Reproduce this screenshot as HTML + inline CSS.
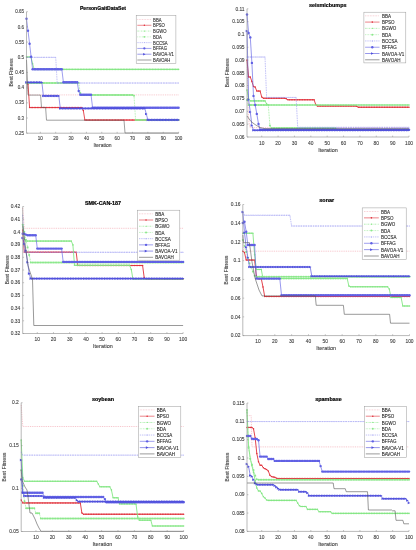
<!DOCTYPE html>
<html><head><meta charset="utf-8"><style>
html,body{margin:0;padding:0;background:#fff;}
.t{fill:#404040;stroke:#404040;stroke-width:0.1px;}
.ti{fill:#000;stroke:#000;stroke-width:0.2px;}
.lg{fill:#1a1a1a;stroke:#1a1a1a;stroke-width:0.08px;}
svg{display:block;font-family:"Liberation Sans",sans-serif;will-change:transform;filter:blur(0.4px);}
</style></head><body>
<svg width="416" height="550" viewBox="0 0 416 550">
<rect width="416" height="550" fill="#fff"/>
<defs><marker id="mBPSO" markerUnits="userSpaceOnUse" markerWidth="1.5" markerHeight="1.5" refX="0.75" refY="0.75" overflow="visible"><circle cx="0.75" cy="0.75" r="0.75" fill="#e0303a"/></marker><marker id="mBGWO" markerUnits="userSpaceOnUse" markerWidth="1.6" markerHeight="1.6" refX="0.8" refY="0.8" overflow="visible"><circle cx="0.8" cy="0.8" r="0.8" fill="#84e684"/></marker><marker id="mBDA" markerUnits="userSpaceOnUse" markerWidth="2.0" markerHeight="2.0" refX="1.0" refY="1.0" overflow="visible"><circle cx="1.0" cy="1.0" r="1.0" fill="#8ce88c"/></marker><marker id="mBCCSA" markerUnits="userSpaceOnUse" markerWidth="0.9" markerHeight="0.9" refX="0.45" refY="0.45" overflow="visible"><circle cx="0.45" cy="0.45" r="0.45" fill="#9a9af2"/></marker><marker id="mBFFAG" markerUnits="userSpaceOnUse" markerWidth="2.4" markerHeight="2.4" refX="1.2" refY="1.2" overflow="visible"><circle cx="1.2" cy="1.2" r="1.2" fill="#6060e4"/></marker><marker id="mBAVOAV1" markerUnits="userSpaceOnUse" markerWidth="2.6" markerHeight="2.6" refX="1.3" refY="1.3" overflow="visible"><path d="M0,0 L2.6,1.3 L0,2.6 Z" fill="#5050dc"/></marker></defs>
<g><path d="M26.5,82.6 L28,94.9 H178.6" fill="none" stroke="#f2a6b0" stroke-width="0.66" stroke-dasharray="0.9 0.9" stroke-linejoin="round"/>
<polyline points="26.5,82.6 28.0,83.9 29.6,107.6 31.1,107.6 32.6,107.6 34.2,107.6 35.7,107.6 37.3,107.6 38.8,107.6 40.3,107.6 41.9,107.6 43.4,107.6 44.9,107.6 46.5,107.6 48.0,107.6 49.5,107.6 51.1,107.6 52.6,107.6 54.2,107.6 55.7,107.6 57.2,107.6 58.8,107.6 60.3,107.6 61.8,107.6 63.4,107.6 64.9,107.6 66.4,107.6 68.0,107.6 69.5,107.6 71.1,107.6 72.6,107.6 74.1,107.6 75.7,107.6 77.2,107.6 78.7,107.6 80.3,107.6 81.8,107.6 83.3,110.5 84.9,120.1 86.4,120.1 88.0,120.1 89.5,120.1 91.0,120.1 92.6,120.1 94.1,120.1 95.6,120.1 97.2,120.1 98.7,120.1 100.2,120.1 101.8,120.1 103.3,120.1 104.9,120.1 106.4,120.1 107.9,120.1 109.5,120.1 111.0,120.1 112.5,120.1 114.1,120.1 115.6,120.1 117.1,120.1 118.7,120.1 120.2,120.1 121.8,120.1 123.3,120.1 124.8,120.1 126.4,120.1 127.9,120.1 129.4,120.1 131.0,120.1 132.5,120.1 134.0,120.1 135.6,120.1 137.1,120.1 138.7,120.1 140.2,120.1 141.7,120.1 143.3,120.1 144.8,120.1 146.3,120.1 147.9,120.1 149.4,120.1 150.9,120.1 152.5,120.1 154.0,120.1 155.6,120.1 157.1,120.1 158.6,120.1 160.2,120.1 161.7,120.1 163.2,120.1 164.8,120.1 166.3,120.1 167.8,120.1 169.4,120.1 170.9,120.1 172.5,120.1 174.0,120.1 175.5,120.1 177.1,120.1 178.6,120.1" fill="none" stroke="#e0303a" stroke-width="0.85" stroke-linejoin="round" marker-start="url(#mBPSO)" marker-mid="url(#mBPSO)" marker-end="url(#mBPSO)"/>
<polyline points="26.5,57.0 28.0,57.0 29.6,57.0 31.1,57.5 32.6,63.8 34.2,69.4 35.7,69.4 37.3,69.4 38.8,69.4 40.3,69.4 41.9,69.4 43.4,69.4 44.9,69.4 46.5,69.4 48.0,69.4 49.5,69.4 51.1,69.4 52.6,69.4 54.2,69.4 55.7,69.4 57.2,69.4 58.8,69.4 60.3,69.4 61.8,69.4 63.4,69.4 64.9,69.4 66.4,69.4 68.0,69.4 69.5,69.4 71.1,69.4 72.6,69.4 74.1,69.4 75.7,69.4 77.2,69.4 78.7,69.4 80.3,69.4 81.8,69.4 83.3,69.4 84.9,69.4 86.4,69.4 88.0,69.4 89.5,69.4 91.0,69.4 92.6,69.4 94.1,69.4 95.6,69.4 97.2,69.4 98.7,69.4 100.2,69.4 101.8,69.4 103.3,69.4 104.9,69.4 106.4,69.4 107.9,69.4 109.5,69.4 111.0,69.4 112.5,69.4 114.1,69.4 115.6,69.4 117.1,69.4 118.7,69.4 120.2,69.4 121.8,69.4 123.3,69.4 124.8,69.4 126.4,69.4 127.9,69.4 129.4,69.4 131.0,69.4 132.5,69.4 134.0,69.4 135.6,69.4 137.1,69.4 138.7,69.4 140.2,69.4 141.7,69.4 143.3,69.4 144.8,69.4 146.3,69.4 147.9,69.4 149.4,69.4 150.9,69.4 152.5,69.4 154.0,69.4 155.6,69.4 157.1,69.4 158.6,69.4 160.2,69.4 161.7,69.4 163.2,69.4 164.8,69.4 166.3,69.4 167.8,69.4 169.4,69.4 170.9,69.4 172.5,69.4 174.0,69.4 175.5,69.4 177.1,69.4 178.6,69.4" fill="none" stroke="#84e684" stroke-width="0.85" stroke-linejoin="round" marker-start="url(#mBGWO)" marker-mid="url(#mBGWO)" marker-end="url(#mBGWO)"/>
<polyline points="26.5,83.0 28.0,83.0 29.6,83.0 31.1,83.0 32.6,83.0 34.2,83.0 35.7,83.0 37.3,83.0 38.8,83.0 40.3,83.0 41.9,83.0 43.4,83.0 44.9,83.0 46.5,83.0 48.0,83.0 49.5,83.0 51.1,83.0 52.6,83.0 54.2,83.0 55.7,83.0 57.2,83.0 58.8,83.0 60.3,83.0 61.8,83.0 63.4,83.0 64.9,83.0 66.4,83.0 68.0,83.0 69.5,83.0 71.1,83.0 72.6,83.0 74.1,83.0 75.7,83.0 77.2,83.0 78.7,83.0 80.3,93.1 81.8,94.9 83.3,94.9 84.9,94.9 86.4,94.9 88.0,94.9 89.5,94.9 91.0,94.9 92.6,94.9 94.1,94.9 95.6,94.9 97.2,94.9 98.7,94.9 100.2,94.9 101.8,94.9 103.3,94.9 104.9,94.9 106.4,94.9 107.9,94.9 109.5,94.9 111.0,94.9 112.5,94.9 114.1,94.9 115.6,94.9 117.1,94.9 118.7,94.9 120.2,94.9 121.8,94.9 123.3,94.9 124.8,94.9 126.4,94.9 127.9,94.9 129.4,94.9 131.0,94.9 132.5,94.9 134.0,95.7 135.6,120.1 137.1,120.1 138.7,120.1 140.2,120.1 141.7,120.1 143.3,120.1 144.8,120.1 146.3,120.1 147.9,120.1 149.4,120.1 150.9,120.1 152.5,120.1 154.0,120.1 155.6,120.1 157.1,120.1 158.6,120.1 160.2,120.1 161.7,120.1 163.2,120.1 164.8,120.1 166.3,120.1 167.8,120.1 169.4,120.1 170.9,120.1 172.5,120.1 174.0,120.1 175.5,120.1 177.1,120.1 178.6,120.1" fill="none" stroke="#8ce88c" stroke-width="0.75" stroke-dasharray="0.8 0.8" stroke-linejoin="round" marker-start="url(#mBDA)" marker-mid="url(#mBDA)" marker-end="url(#mBDA)"/>
<polyline points="26.5,57.3 28.0,57.3 29.6,57.3 31.1,57.3 32.6,57.3 34.2,57.3 35.7,57.3 37.3,57.3 38.8,57.3 40.3,57.3 41.9,57.3 43.4,57.3 44.9,57.3 46.5,57.3 48.0,57.3 49.5,57.3 51.1,57.3 52.6,57.3 54.2,57.3 55.7,57.3 57.2,83.0 58.8,83.0 60.3,83.0 61.8,83.0 63.4,83.0 64.9,83.0 66.4,83.0 68.0,83.0 69.5,83.0 71.1,83.0 72.6,83.0 74.1,83.0 75.7,83.0 77.2,83.0 78.7,83.0 80.3,83.0 81.8,83.0 83.3,83.0 84.9,83.0 86.4,83.0 88.0,83.0 89.5,83.0 91.0,83.0 92.6,83.0 94.1,83.0 95.6,83.0 97.2,83.0 98.7,83.0 100.2,83.0 101.8,83.0 103.3,83.0 104.9,83.0 106.4,83.0 107.9,83.0 109.5,83.0 111.0,83.0 112.5,83.0 114.1,83.0 115.6,83.0 117.1,83.0 118.7,83.0 120.2,83.0 121.8,83.0 123.3,83.0 124.8,83.0 126.4,83.0 127.9,83.0 129.4,83.0 131.0,83.0 132.5,83.0 134.0,83.0 135.6,83.0 137.1,83.0 138.7,83.0 140.2,83.0 141.7,83.0 143.3,83.0 144.8,83.0 146.3,83.0 147.9,83.0 149.4,83.0 150.9,83.0 152.5,83.0 154.0,83.0 155.6,83.0 157.1,83.0 158.6,83.0 160.2,83.0 161.7,83.0 163.2,83.0 164.8,83.0 166.3,83.0 167.8,83.0 169.4,83.0 170.9,83.0 172.5,83.0 174.0,83.0 175.5,83.0 177.1,83.0 178.6,83.0" fill="none" stroke="#9a9af2" stroke-width="0.56" stroke-dasharray="1.6 0.8" stroke-linejoin="round" marker-start="url(#mBCCSA)" marker-mid="url(#mBCCSA)" marker-end="url(#mBCCSA)"/>
<polyline points="26.5,18.7 28.0,30.8 29.6,43.8 31.1,56.7 32.6,69.2 34.2,69.2 35.7,69.2 37.3,69.2 38.8,69.2 40.3,69.2 41.9,69.2 43.4,69.2 44.9,69.2 46.5,69.2 48.0,69.2 49.5,69.2 51.1,69.2 52.6,69.2 54.2,69.2 55.7,69.2 57.2,69.2 58.8,69.2 60.3,69.2 61.8,69.2 63.4,82.2 64.9,82.2 66.4,82.2 68.0,82.2 69.5,82.2 71.1,82.2 72.6,82.2 74.1,82.2 75.7,82.2 77.2,82.2 78.7,91.0 80.3,94.7 81.8,94.7 83.3,94.7 84.9,94.7 86.4,94.7 88.0,94.7 89.5,94.7 91.0,94.7 92.6,107.8 94.1,107.8 95.6,107.8 97.2,107.8 98.7,107.8 100.2,107.8 101.8,107.8 103.3,107.8 104.9,107.8 106.4,107.8 107.9,107.8 109.5,107.8 111.0,107.8 112.5,107.8 114.1,107.8 115.6,107.8 117.1,107.8 118.7,107.8 120.2,107.8 121.8,107.8 123.3,107.8 124.8,107.8 126.4,107.8 127.9,107.8 129.4,107.8 131.0,107.8 132.5,107.8 134.0,107.8 135.6,107.8 137.1,107.8 138.7,107.8 140.2,107.8 141.7,107.8 143.3,107.8 144.8,107.8 146.3,107.8 147.9,107.8 149.4,107.8 150.9,107.8 152.5,107.8 154.0,107.8 155.6,107.8 157.1,107.8 158.6,107.8 160.2,107.8 161.7,107.8 163.2,107.8 164.8,107.8 166.3,107.8 167.8,107.8 169.4,107.8 170.9,107.8 172.5,107.8 174.0,107.8 175.5,107.8 177.1,107.8 178.6,107.8" fill="none" stroke="#6060e4" stroke-width="0.61" stroke-linejoin="round" marker-start="url(#mBFFAG)" marker-mid="url(#mBFFAG)" marker-end="url(#mBFFAG)"/>
<polyline points="26.5,82.4 28.0,82.4 29.6,82.4 31.1,82.4 32.6,82.4 34.2,82.4 35.7,82.4 37.3,82.4 38.8,82.4 40.3,82.4 41.9,82.4 43.4,95.9 44.9,95.9 46.5,95.9 48.0,95.9 49.5,95.9 51.1,95.9 52.6,95.9 54.2,95.9 55.7,95.9 57.2,95.9 58.8,95.9 60.3,108.4 61.8,108.4 63.4,108.4 64.9,108.4 66.4,108.4 68.0,108.4 69.5,108.4 71.1,108.4 72.6,108.4 74.1,108.4 75.7,108.4 77.2,108.4 78.7,108.4 80.3,108.4 81.8,108.4 83.3,108.4 84.9,108.4 86.4,108.4 88.0,108.4 89.5,108.4 91.0,108.4 92.6,108.4 94.1,108.4 95.6,108.4 97.2,108.4 98.7,108.4 100.2,108.4 101.8,108.4 103.3,108.4 104.9,108.4 106.4,108.4 107.9,108.4 109.5,108.4 111.0,108.4 112.5,108.4 114.1,108.4 115.6,108.4 117.1,108.4 118.7,108.4 120.2,108.4 121.8,108.4 123.3,108.4 124.8,108.4 126.4,108.4 127.9,108.4 129.4,108.4 131.0,108.4 132.5,108.4 134.0,108.4 135.6,108.4 137.1,108.4 138.7,108.4 140.2,108.4 141.7,108.4 143.3,108.4 144.8,108.4 146.3,114.0 147.9,119.9 149.4,119.9 150.9,119.9 152.5,119.9 154.0,119.9 155.6,119.9 157.1,119.9 158.6,119.9 160.2,119.9 161.7,119.9 163.2,119.9 164.8,119.9 166.3,119.9 167.8,119.9 169.4,119.9 170.9,119.9 172.5,119.9 174.0,119.9 175.5,119.9 177.1,119.9 178.6,119.9" fill="none" stroke="#5050dc" stroke-width="0.61" stroke-linejoin="round" marker-start="url(#mBAVOAV1)" marker-mid="url(#mBAVOAV1)" marker-end="url(#mBAVOAV1)"/>
<path d="M26.5,60 L28.1,95.1 H40.6 L41.5,107.4 H45.6 L46.5,120.2 H124 L125,133 H178.6" fill="none" stroke="#555555" stroke-width="0.56" stroke-linejoin="round"/>
<path d="M26.50,11.70 V133.20 H178.60" fill="none" stroke="#8a8a8a" stroke-width="0.6"/>
<text x="40.33" y="139.84" font-size="4.55" text-anchor="middle" class="t">10</text>
<text x="55.69" y="139.84" font-size="4.55" text-anchor="middle" class="t">20</text>
<text x="71.05" y="139.84" font-size="4.55" text-anchor="middle" class="t">30</text>
<text x="86.42" y="139.84" font-size="4.55" text-anchor="middle" class="t">40</text>
<text x="101.78" y="139.84" font-size="4.55" text-anchor="middle" class="t">50</text>
<text x="117.15" y="139.84" font-size="4.55" text-anchor="middle" class="t">60</text>
<text x="132.51" y="139.84" font-size="4.55" text-anchor="middle" class="t">70</text>
<text x="147.87" y="139.84" font-size="4.55" text-anchor="middle" class="t">80</text>
<text x="163.24" y="139.84" font-size="4.55" text-anchor="middle" class="t">90</text>
<text x="178.60" y="139.84" font-size="4.55" text-anchor="middle" class="t">100</text>
<text x="24.10" y="134.84" font-size="4.55" text-anchor="end" class="t">0.25</text>
<text x="24.10" y="119.65" font-size="4.55" text-anchor="end" class="t">0.3</text>
<text x="24.10" y="104.46" font-size="4.55" text-anchor="end" class="t">0.35</text>
<text x="24.10" y="89.28" font-size="4.55" text-anchor="end" class="t">0.4</text>
<text x="24.10" y="74.09" font-size="4.55" text-anchor="end" class="t">0.45</text>
<text x="24.10" y="58.90" font-size="4.55" text-anchor="end" class="t">0.5</text>
<text x="24.10" y="43.71" font-size="4.55" text-anchor="end" class="t">0.55</text>
<text x="24.10" y="28.53" font-size="4.55" text-anchor="end" class="t">0.6</text>
<text x="24.10" y="13.34" font-size="4.55" text-anchor="end" class="t">0.65</text>
<path d="M40.33,133.20 v-1.4 M55.69,133.20 v-1.4 M71.05,133.20 v-1.4 M86.42,133.20 v-1.4 M101.78,133.20 v-1.4 M117.15,133.20 v-1.4 M132.51,133.20 v-1.4 M147.87,133.20 v-1.4 M163.24,133.20 v-1.4 M178.60,133.20 v-1.4 M26.50,133.20 h1.4 M26.50,118.01 h1.4 M26.50,102.83 h1.4 M26.50,87.64 h1.4 M26.50,72.45 h1.4 M26.50,57.26 h1.4 M26.50,42.07 h1.4 M26.50,26.89 h1.4 M26.50,11.70 h1.4" stroke="#8a8a8a" stroke-width="0.5"/>
<text x="102.55" y="146.80" font-size="5.00" text-anchor="middle" class="t">Iteration</text>
<text transform="translate(12.65,72.45) rotate(-90)" font-size="5.15" text-anchor="middle" class="t">Best Fitness</text>
<text x="103.00" y="10.20" font-size="5.08" font-weight="bold" text-anchor="middle" class="ti">PersonGaitDataSet</text>
<rect x="136.20" y="15.30" width="39.70" height="48.30" fill="#fff" stroke="#9a9a9a" stroke-width="0.5"/>
<path d="M137.30,19.50 H151.40" stroke="#f2a6b0" stroke-width="0.56" stroke-dasharray="0.8 0.8"/>

<text transform="translate(153.10,21.56) scale(0.920,1)" font-size="4.6" class="lg">BBA</text>
<path d="M137.30,25.29 H151.40" stroke="#e0303a" stroke-width="0.56"/>
<circle cx="144.35" cy="25.29" r="0.75" fill="#e0303a"/>
<text transform="translate(153.10,27.34) scale(0.920,1)" font-size="4.6" class="lg">BPSO</text>
<path d="M137.30,31.07 H151.40" stroke="#84e684" stroke-width="0.56" stroke-dasharray="1.6 0.7 0.5 0.7"/>
<circle cx="144.35" cy="31.07" r="0.56" fill="#84e684"/>
<text transform="translate(153.10,33.13) scale(0.920,1)" font-size="4.6" class="lg">BGWO</text>
<path d="M137.30,36.86 H151.40" stroke="#8ce88c" stroke-width="0.56" stroke-dasharray="0.8 0.8"/>
<circle cx="144.35" cy="36.86" r="0.94" fill="#8ce88c"/>
<text transform="translate(153.10,38.91) scale(0.920,1)" font-size="4.6" class="lg">BDA</text>
<path d="M137.30,42.64 H151.40" stroke="#9a9af2" stroke-width="0.56" stroke-dasharray="1.4 0.8"/>
<circle cx="144.35" cy="42.64" r="0.47" fill="#9a9af2"/>
<text transform="translate(153.10,44.70) scale(0.920,1)" font-size="4.6" class="lg">BCCSA</text>
<path d="M137.30,48.43 H151.40" stroke="#6060e4" stroke-width="0.56"/>
<circle cx="144.35" cy="48.43" r="1.13" fill="#6060e4"/>
<text transform="translate(153.10,50.48) scale(0.920,1)" font-size="4.6" class="lg">BFFAG</text>
<path d="M137.30,54.21 H151.40" stroke="#5050dc" stroke-width="0.56"/>
<path d="M143.13,52.99 L145.57,54.21 L143.13,55.44 Z" fill="#5050dc"/>
<text transform="translate(153.10,56.27) scale(0.920,1)" font-size="4.6" class="lg">BAVOA-V1</text>
<path d="M137.30,60.00 H151.40" stroke="#555555" stroke-width="0.56"/>

<text transform="translate(153.10,62.06) scale(0.920,1)" font-size="4.6" class="lg">BAVOAH</text></g>
<g><path d="M247,60 L248.6,120 L250,127.6 H409" fill="none" stroke="#f2a6b0" stroke-width="0.70" stroke-dasharray="0.9 0.9" stroke-linejoin="round"/>
<polyline points="247.0,60.0 248.6,77.0 250.3,77.0 251.9,81.5 253.5,86.6 255.2,87.1 256.8,91.1 258.5,91.1 260.1,91.1 261.7,96.9 263.4,98.2 265.0,98.2 266.6,98.2 268.3,98.2 269.9,98.2 271.5,98.2 273.2,98.2 274.8,98.2 276.5,98.2 278.1,98.2 279.7,98.2 281.4,98.2 283.0,98.2 284.6,98.2 286.3,98.8 287.9,99.8 289.5,99.8 291.2,99.8 292.8,99.8 294.5,99.8 296.1,99.8 297.7,99.8 299.4,99.8 301.0,99.8 302.6,99.8 304.3,99.8 305.9,99.8 307.5,99.8 309.2,99.8 310.8,99.8 312.5,99.8 314.1,99.8 315.7,104.5 317.4,106.1 319.0,106.1 320.6,106.1 322.3,106.1 323.9,106.1 325.5,106.1 327.2,106.1 328.8,106.1 330.5,106.1 332.1,106.1 333.7,106.1 335.4,106.1 337.0,106.1 338.6,106.1 340.3,106.1 341.9,106.1 343.5,106.1 345.2,106.1 346.8,106.1 348.5,106.1 350.1,106.1 351.7,106.1 353.4,106.1 355.0,106.1 356.6,106.2 358.3,107.2 359.9,107.2 361.5,107.2 363.2,107.2 364.8,107.2 366.5,107.2 368.1,107.2 369.7,107.2 371.4,107.2 373.0,107.2 374.6,107.2 376.3,107.2 377.9,107.2 379.5,107.2 381.2,107.2 382.8,107.2 384.5,107.2 386.1,107.2 387.7,107.2 389.4,107.2 391.0,107.2 392.6,107.2 394.3,107.2 395.9,107.2 397.5,107.2 399.2,107.2 400.8,107.2 402.5,107.2 404.1,107.2 405.7,107.2 407.4,107.2 409.0,107.2" fill="none" stroke="#e0303a" stroke-width="0.90" stroke-linejoin="round" marker-start="url(#mBPSO)" marker-mid="url(#mBPSO)" marker-end="url(#mBPSO)"/>
<polyline points="247.0,90.0 248.6,98.9 250.3,100.9 251.9,100.9 253.5,100.9 255.2,100.9 256.8,100.9 258.5,100.9 260.1,100.9 261.7,100.9 263.4,100.9 265.0,100.9 266.6,103.9 268.3,105.0 269.9,105.0 271.5,105.0 273.2,105.0 274.8,105.0 276.5,105.0 278.1,105.0 279.7,105.0 281.4,105.0 283.0,105.0 284.6,105.0 286.3,105.0 287.9,105.0 289.5,105.0 291.2,105.0 292.8,105.0 294.5,105.0 296.1,105.0 297.7,105.0 299.4,105.0 301.0,105.0 302.6,105.0 304.3,105.0 305.9,105.0 307.5,105.0 309.2,105.0 310.8,105.0 312.5,105.0 314.1,105.0 315.7,105.0 317.4,105.0 319.0,105.0 320.6,105.0 322.3,105.0 323.9,105.0 325.5,105.0 327.2,105.0 328.8,105.0 330.5,105.0 332.1,105.0 333.7,105.0 335.4,105.0 337.0,105.0 338.6,105.0 340.3,105.0 341.9,105.0 343.5,105.0 345.2,105.0 346.8,105.0 348.5,105.0 350.1,105.0 351.7,105.0 353.4,105.0 355.0,105.0 356.6,105.0 358.3,105.0 359.9,105.0 361.5,105.0 363.2,105.0 364.8,105.0 366.5,105.0 368.1,105.0 369.7,105.0 371.4,105.0 373.0,105.0 374.6,105.0 376.3,105.0 377.9,105.0 379.5,105.0 381.2,105.0 382.8,105.0 384.5,105.0 386.1,105.0 387.7,105.0 389.4,105.0 391.0,105.0 392.6,105.0 394.3,105.0 395.9,105.0 397.5,105.0 399.2,105.0 400.8,105.0 402.5,105.0 404.1,105.0 405.7,105.0 407.4,105.0 409.0,105.0" fill="none" stroke="#84e684" stroke-width="0.90" stroke-linejoin="round" marker-start="url(#mBGWO)" marker-mid="url(#mBGWO)" marker-end="url(#mBGWO)"/>
<polyline points="247.0,100.0 248.6,105.0 250.3,105.0 251.9,105.0 253.5,105.0 255.2,105.0 256.8,105.0 258.5,105.0 260.1,105.0 261.7,105.0 263.4,105.0 265.0,105.0 266.6,105.0 268.3,105.0 269.9,125.4 271.5,128.0 273.2,128.0 274.8,128.0 276.5,128.0 278.1,128.0 279.7,128.0 281.4,128.0 283.0,128.0 284.6,128.0 286.3,128.0 287.9,128.0 289.5,128.0 291.2,128.0 292.8,128.0 294.5,128.0 296.1,128.0 297.7,128.0 299.4,128.0 301.0,128.0 302.6,128.0 304.3,128.0 305.9,128.0 307.5,128.0 309.2,128.0 310.8,128.0 312.5,128.0 314.1,128.0 315.7,128.0 317.4,128.0 319.0,128.0 320.6,128.0 322.3,128.0 323.9,128.0 325.5,128.0 327.2,128.0 328.8,128.0 330.5,128.0 332.1,128.0 333.7,128.0 335.4,128.0 337.0,130.0 338.6,130.0 340.3,130.0 341.9,130.0 343.5,130.0 345.2,130.0 346.8,130.0 348.5,130.0 350.1,130.0 351.7,130.0 353.4,130.0 355.0,130.0 356.6,130.0 358.3,130.0 359.9,130.0 361.5,130.0 363.2,130.0 364.8,130.0 366.5,130.0 368.1,130.0 369.7,130.0 371.4,130.0 373.0,130.0 374.6,130.0 376.3,130.0 377.9,130.0 379.5,130.0 381.2,130.0 382.8,130.0 384.5,130.0 386.1,130.0 387.7,130.0 389.4,130.0 391.0,130.0 392.6,130.0 394.3,130.0 395.9,130.0 397.5,130.0 399.2,130.0 400.8,130.0 402.5,130.0 404.1,130.0 405.7,130.0 407.4,130.0 409.0,130.0" fill="none" stroke="#8ce88c" stroke-width="0.80" stroke-dasharray="0.8 0.8" stroke-linejoin="round" marker-start="url(#mBDA)" marker-mid="url(#mBDA)" marker-end="url(#mBDA)"/>
<polyline points="247.0,57.0 248.6,57.0 250.3,57.0 251.9,57.0 253.5,57.0 255.2,57.0 256.8,57.0 258.5,57.0 260.1,57.0 261.7,57.0 263.4,57.0 265.0,57.0 266.6,97.4 268.3,97.4 269.9,97.4 271.5,97.4 273.2,97.4 274.8,97.4 276.5,97.4 278.1,97.4 279.7,97.4 281.4,97.4 283.0,97.4 284.6,97.4 286.3,97.4 287.9,97.4 289.5,97.4 291.2,97.4 292.8,97.4 294.5,97.4 296.1,97.4 297.7,127.3 299.4,127.3 301.0,127.3 302.6,127.3 304.3,127.3 305.9,127.3 307.5,127.3 309.2,127.3 310.8,127.3 312.5,127.3 314.1,127.3 315.7,127.3 317.4,127.3 319.0,127.3 320.6,127.3 322.3,127.3 323.9,127.3 325.5,127.3 327.2,127.3 328.8,127.3 330.5,127.3 332.1,127.3 333.7,127.3 335.4,127.3 337.0,127.3 338.6,127.3 340.3,127.3 341.9,127.3 343.5,127.3 345.2,127.3 346.8,127.3 348.5,127.3 350.1,127.3 351.7,127.3 353.4,127.3 355.0,127.3 356.6,127.3 358.3,127.3 359.9,127.3 361.5,127.3 363.2,127.3 364.8,127.3 366.5,127.3 368.1,127.3 369.7,127.3 371.4,127.3 373.0,127.3 374.6,127.3 376.3,127.3 377.9,127.3 379.5,127.3 381.2,127.3 382.8,127.3 384.5,127.3 386.1,127.3 387.7,127.3 389.4,127.3 391.0,127.3 392.6,127.3 394.3,127.3 395.9,127.3 397.5,127.3 399.2,127.3 400.8,127.3 402.5,127.3 404.1,127.3 405.7,127.3 407.4,127.3 409.0,127.3" fill="none" stroke="#9a9af2" stroke-width="0.60" stroke-dasharray="1.6 0.8" stroke-linejoin="round" marker-start="url(#mBCCSA)" marker-mid="url(#mBCCSA)" marker-end="url(#mBCCSA)"/>
<polyline points="247.0,14.5 248.6,33.0 250.3,37.4 251.9,62.9 253.5,95.9 255.2,105.0 256.8,113.9 258.5,124.0 260.1,129.6 261.7,129.6 263.4,129.6 265.0,129.6 266.6,129.6 268.3,129.6 269.9,129.6 271.5,129.6 273.2,129.6 274.8,129.6 276.5,129.6 278.1,129.6 279.7,129.6 281.4,129.6 283.0,129.6 284.6,129.6 286.3,129.6 287.9,129.6 289.5,129.6 291.2,129.6 292.8,129.6 294.5,129.6 296.1,129.6 297.7,129.6 299.4,129.6 301.0,129.6 302.6,129.6 304.3,129.6 305.9,129.6 307.5,129.6 309.2,129.6 310.8,129.6 312.5,129.6 314.1,129.6 315.7,129.6 317.4,129.6 319.0,129.6 320.6,129.6 322.3,129.6 323.9,129.6 325.5,129.6 327.2,129.6 328.8,129.6 330.5,129.6 332.1,129.6 333.7,129.6 335.4,129.6 337.0,129.6 338.6,129.6 340.3,129.6 341.9,129.6 343.5,129.6 345.2,129.6 346.8,129.6 348.5,129.6 350.1,129.6 351.7,129.6 353.4,129.6 355.0,129.6 356.6,129.6 358.3,129.6 359.9,129.6 361.5,129.6 363.2,129.6 364.8,129.6 366.5,129.6 368.1,129.6 369.7,129.6 371.4,129.6 373.0,129.6 374.6,129.6 376.3,129.6 377.9,129.6 379.5,129.6 381.2,129.6 382.8,129.6 384.5,129.6 386.1,129.6 387.7,129.6 389.4,129.6 391.0,129.6 392.6,129.6 394.3,129.6 395.9,129.6 397.5,129.6 399.2,129.6 400.8,129.6 402.5,129.6 404.1,129.6 405.7,129.6 407.4,129.6 409.0,129.6" fill="none" stroke="#6060e4" stroke-width="0.65" stroke-linejoin="round" marker-start="url(#mBFFAG)" marker-mid="url(#mBFFAG)" marker-end="url(#mBFFAG)"/>
<polyline points="247.0,31.0 248.6,99.8 250.3,112.0 251.9,125.5 253.5,130.3 255.2,130.3 256.8,130.3 258.5,130.3 260.1,130.3 261.7,130.3 263.4,130.3 265.0,130.3 266.6,130.3 268.3,130.3 269.9,130.3 271.5,130.3 273.2,130.3 274.8,130.3 276.5,130.3 278.1,130.3 279.7,130.3 281.4,130.3 283.0,130.3 284.6,130.3 286.3,130.3 287.9,130.3 289.5,130.3 291.2,130.3 292.8,130.3 294.5,130.3 296.1,130.3 297.7,130.3 299.4,130.3 301.0,130.3 302.6,130.3 304.3,130.3 305.9,130.3 307.5,130.3 309.2,130.3 310.8,130.3 312.5,130.3 314.1,130.3 315.7,130.3 317.4,130.3 319.0,130.3 320.6,130.3 322.3,130.3 323.9,130.3 325.5,130.3 327.2,130.3 328.8,130.3 330.5,130.3 332.1,130.3 333.7,130.3 335.4,130.3 337.0,130.3 338.6,130.3 340.3,130.3 341.9,130.3 343.5,130.3 345.2,130.3 346.8,130.3 348.5,130.3 350.1,130.3 351.7,130.3 353.4,130.3 355.0,130.3 356.6,130.3 358.3,130.3 359.9,130.3 361.5,130.3 363.2,130.3 364.8,130.3 366.5,130.3 368.1,130.3 369.7,130.3 371.4,130.3 373.0,130.3 374.6,130.3 376.3,130.3 377.9,130.3 379.5,130.3 381.2,130.3 382.8,130.3 384.5,130.3 386.1,130.3 387.7,130.3 389.4,130.3 391.0,130.3 392.6,130.3 394.3,130.3 395.9,130.3 397.5,130.3 399.2,130.3 400.8,130.3 402.5,130.3 404.1,130.3 405.7,130.3 407.4,130.3 409.0,130.3" fill="none" stroke="#5050dc" stroke-width="0.65" stroke-linejoin="round" marker-start="url(#mBAVOAV1)" marker-mid="url(#mBAVOAV1)" marker-end="url(#mBAVOAV1)"/>
<path d="M247,116 L251,121.5 L255,124.5 L260,127.5 L265,128.7 H409" fill="none" stroke="#555555" stroke-width="0.60" stroke-linejoin="round"/>
<path d="M247.00,8.80 V137.00 H409.00" fill="none" stroke="#8a8a8a" stroke-width="0.6"/>
<text x="261.73" y="144.66" font-size="4.90" text-anchor="middle" class="t">10</text>
<text x="278.09" y="144.66" font-size="4.90" text-anchor="middle" class="t">20</text>
<text x="294.45" y="144.66" font-size="4.90" text-anchor="middle" class="t">30</text>
<text x="310.82" y="144.66" font-size="4.90" text-anchor="middle" class="t">40</text>
<text x="327.18" y="144.66" font-size="4.90" text-anchor="middle" class="t">50</text>
<text x="343.55" y="144.66" font-size="4.90" text-anchor="middle" class="t">60</text>
<text x="359.91" y="144.66" font-size="4.90" text-anchor="middle" class="t">70</text>
<text x="376.27" y="144.66" font-size="4.90" text-anchor="middle" class="t">80</text>
<text x="392.64" y="144.66" font-size="4.90" text-anchor="middle" class="t">90</text>
<text x="409.00" y="144.66" font-size="4.90" text-anchor="middle" class="t">100</text>
<text x="244.60" y="138.76" font-size="4.90" text-anchor="end" class="t">0.06</text>
<text x="244.60" y="125.94" font-size="4.90" text-anchor="end" class="t">0.065</text>
<text x="244.60" y="113.12" font-size="4.90" text-anchor="end" class="t">0.07</text>
<text x="244.60" y="100.30" font-size="4.90" text-anchor="end" class="t">0.075</text>
<text x="244.60" y="87.48" font-size="4.90" text-anchor="end" class="t">0.08</text>
<text x="244.60" y="74.66" font-size="4.90" text-anchor="end" class="t">0.085</text>
<text x="244.60" y="61.84" font-size="4.90" text-anchor="end" class="t">0.09</text>
<text x="244.60" y="49.02" font-size="4.90" text-anchor="end" class="t">0.095</text>
<text x="244.60" y="36.20" font-size="4.90" text-anchor="end" class="t">0.1</text>
<text x="244.60" y="23.38" font-size="4.90" text-anchor="end" class="t">0.105</text>
<text x="244.60" y="10.56" font-size="4.90" text-anchor="end" class="t">0.11</text>
<path d="M261.73,137.00 v-1.4 M278.09,137.00 v-1.4 M294.45,137.00 v-1.4 M310.82,137.00 v-1.4 M327.18,137.00 v-1.4 M343.55,137.00 v-1.4 M359.91,137.00 v-1.4 M376.27,137.00 v-1.4 M392.64,137.00 v-1.4 M409.00,137.00 v-1.4 M247.00,137.00 h1.4 M247.00,124.18 h1.4 M247.00,111.36 h1.4 M247.00,98.54 h1.4 M247.00,85.72 h1.4 M247.00,72.90 h1.4 M247.00,60.08 h1.4 M247.00,47.26 h1.4 M247.00,34.44 h1.4 M247.00,21.62 h1.4 M247.00,8.80 h1.4" stroke="#8a8a8a" stroke-width="0.5"/>
<text x="328.00" y="151.86" font-size="5.45" text-anchor="middle" class="t">Iteration</text>
<text transform="translate(229.11,72.90) rotate(-90)" font-size="5.30" text-anchor="middle" class="t">Best Fitness</text>
<text x="327.70" y="7.20" font-size="5.40" font-weight="bold" text-anchor="middle" class="ti">seismicbumps</text>
<rect x="363.90" y="12.20" width="41.90" height="50.70" fill="#fff" stroke="#9a9a9a" stroke-width="0.5"/>
<path d="M365.10,15.80 H379.50" stroke="#f2a6b0" stroke-width="0.60" stroke-dasharray="0.8 0.8"/>

<text x="382.00" y="17.92" font-size="4.50" class="lg">BBA</text>
<path d="M365.10,22.09 H379.50" stroke="#e0303a" stroke-width="0.60"/>
<circle cx="372.30" cy="22.09" r="0.80" fill="#e0303a"/>
<text x="382.00" y="24.21" font-size="4.50" class="lg">BPSO</text>
<path d="M365.10,28.37 H379.50" stroke="#84e684" stroke-width="0.60" stroke-dasharray="1.6 0.7 0.5 0.7"/>
<circle cx="372.30" cy="28.37" r="0.60" fill="#84e684"/>
<text x="382.00" y="30.49" font-size="4.50" class="lg">BGWO</text>
<path d="M365.10,34.66 H379.50" stroke="#8ce88c" stroke-width="0.60" stroke-dasharray="0.8 0.8"/>
<circle cx="372.30" cy="34.66" r="1.00" fill="#8ce88c"/>
<text x="382.00" y="36.78" font-size="4.50" class="lg">BDA</text>
<path d="M365.10,40.94 H379.50" stroke="#9a9af2" stroke-width="0.60" stroke-dasharray="1.4 0.8"/>
<circle cx="372.30" cy="40.94" r="0.50" fill="#9a9af2"/>
<text x="382.00" y="43.06" font-size="4.50" class="lg">BCCSA</text>
<path d="M365.10,47.23 H379.50" stroke="#6060e4" stroke-width="0.60"/>
<circle cx="372.30" cy="47.23" r="1.20" fill="#6060e4"/>
<text x="382.00" y="49.35" font-size="4.50" class="lg">BFFAG</text>
<path d="M365.10,53.51 H379.50" stroke="#5050dc" stroke-width="0.60"/>
<path d="M371.00,52.21 L373.60,53.51 L371.00,54.81 Z" fill="#5050dc"/>
<text x="382.00" y="55.63" font-size="4.50" class="lg">BAVOA-V1</text>
<path d="M365.10,59.80 H379.50" stroke="#555555" stroke-width="0.60"/>

<text x="382.00" y="61.92" font-size="4.50" class="lg">BAVOAH</text></g>
<g><path d="M22.7,208 L24.3,228.3 H183.1" fill="none" stroke="#f2a6b0" stroke-width="0.70" stroke-dasharray="0.9 0.9" stroke-linejoin="round"/>
<polyline points="22.7,230.0 24.3,252.2 25.9,252.2 27.6,252.2 29.2,252.2 30.8,252.2 32.4,252.2 34.0,252.2 35.7,252.2 37.3,252.2 38.9,252.2 40.5,252.2 42.1,252.2 43.8,252.2 45.4,252.2 47.0,252.2 48.6,252.2 50.2,252.2 51.9,252.2 53.5,252.2 55.1,252.2 56.7,252.2 58.3,252.2 60.0,252.2 61.6,252.2 63.2,252.2 64.8,252.2 66.4,252.2 68.1,252.2 69.7,252.2 71.3,252.2 72.9,252.2 74.5,252.2 76.2,252.2 77.8,265.5 79.4,265.5 81.0,265.5 82.6,265.5 84.3,265.5 85.9,265.5 87.5,265.5 89.1,265.5 90.7,265.5 92.4,265.5 94.0,265.5 95.6,265.5 97.2,265.5 98.8,265.5 100.5,265.5 102.1,265.5 103.7,265.5 105.3,265.5 107.0,265.5 108.6,265.5 110.2,265.5 111.8,265.5 113.4,265.5 115.1,265.5 116.7,265.5 118.3,265.5 119.9,265.5 121.5,265.5 123.2,265.5 124.8,265.5 126.4,265.5 128.0,265.5 129.6,265.5 131.3,265.5 132.9,265.5 134.5,265.5 136.1,265.5 137.7,265.5 139.4,265.5 141.0,265.5 142.6,265.5 144.2,277.6 145.8,278.9 147.5,278.9 149.1,278.9 150.7,278.9 152.3,278.9 153.9,278.9 155.6,278.9 157.2,278.9 158.8,278.9 160.4,278.9 162.0,278.9 163.7,278.9 165.3,278.9 166.9,278.9 168.5,278.9 170.1,278.9 171.8,278.9 173.4,278.9 175.0,278.9 176.6,278.9 178.2,278.9 179.9,278.9 181.5,278.9 183.1,278.9" fill="none" stroke="#e0303a" stroke-width="0.90" stroke-linejoin="round" marker-start="url(#mBPSO)" marker-mid="url(#mBPSO)" marker-end="url(#mBPSO)"/>
<polyline points="22.7,224.8 24.3,239.3 25.9,241.1 27.6,241.1 29.2,241.1 30.8,241.1 32.4,241.1 34.0,241.1 35.7,241.1 37.3,241.1 38.9,241.1 40.5,241.1 42.1,241.1 43.8,241.1 45.4,241.1 47.0,241.1 48.6,241.1 50.2,241.1 51.9,241.1 53.5,241.1 55.1,241.1 56.7,241.1 58.3,241.1 60.0,241.1 61.6,241.1 63.2,241.1 64.8,241.1 66.4,241.1 68.1,241.1 69.7,241.1 71.3,241.1 72.9,244.9 74.5,265.3 76.2,265.3 77.8,265.3 79.4,265.3 81.0,265.3 82.6,265.3 84.3,265.3 85.9,265.3 87.5,265.3 89.1,265.3 90.7,265.3 92.4,265.3 94.0,265.3 95.6,265.3 97.2,265.3 98.8,265.3 100.5,265.3 102.1,265.3 103.7,265.3 105.3,265.3 107.0,265.3 108.6,265.3 110.2,265.3 111.8,265.3 113.4,265.3 115.1,265.3 116.7,265.3 118.3,265.3 119.9,265.3 121.5,265.3 123.2,265.3 124.8,265.3 126.4,265.3 128.0,265.3 129.6,265.3 131.3,269.6 132.9,278.9 134.5,278.9 136.1,278.9 137.7,278.9 139.4,278.9 141.0,278.9 142.6,278.9 144.2,278.9 145.8,278.9 147.5,278.9 149.1,278.9 150.7,278.9 152.3,278.9 153.9,278.9 155.6,278.9 157.2,278.9 158.8,278.9 160.4,278.9 162.0,278.9 163.7,278.9 165.3,278.9 166.9,278.9 168.5,278.9 170.1,278.9 171.8,278.9 173.4,278.9 175.0,278.9 176.6,278.9 178.2,278.9 179.9,278.9 181.5,278.9 183.1,278.9" fill="none" stroke="#84e684" stroke-width="0.90" stroke-linejoin="round" marker-start="url(#mBGWO)" marker-mid="url(#mBGWO)" marker-end="url(#mBGWO)"/>
<polyline points="22.7,224.8 24.3,231.8 25.9,239.7 27.6,247.3 29.2,255.0 30.8,262.6 32.4,262.6 34.0,262.6 35.7,262.6 37.3,262.6 38.9,262.6 40.5,262.6 42.1,262.6 43.8,262.6 45.4,262.6 47.0,262.6 48.6,262.6 50.2,262.6 51.9,262.6 53.5,262.6 55.1,262.6 56.7,262.6 58.3,262.6 60.0,262.6 61.6,262.6 63.2,262.6 64.8,262.6 66.4,262.6 68.1,262.6 69.7,262.6 71.3,262.6 72.9,262.6 74.5,262.6 76.2,262.6 77.8,262.6 79.4,262.6 81.0,262.6 82.6,262.6 84.3,262.6 85.9,262.6 87.5,262.6 89.1,262.6 90.7,262.6 92.4,262.6 94.0,262.6 95.6,262.6 97.2,262.6 98.8,262.6 100.5,262.6 102.1,262.6 103.7,262.6 105.3,262.6 107.0,262.6 108.6,262.6 110.2,262.6 111.8,262.6 113.4,262.6 115.1,262.6 116.7,262.6 118.3,262.6 119.9,262.6 121.5,262.6 123.2,262.6 124.8,262.6 126.4,262.6 128.0,262.6 129.6,262.6 131.3,262.6 132.9,262.6 134.5,262.6 136.1,262.6 137.7,262.6 139.4,262.6 141.0,262.6 142.6,262.6 144.2,262.6 145.8,262.6 147.5,262.6 149.1,262.6 150.7,262.6 152.3,262.6 153.9,262.6 155.6,262.6 157.2,262.6 158.8,262.6 160.4,262.6 162.0,262.6 163.7,262.6 165.3,262.6 166.9,262.6 168.5,262.6 170.1,262.6 171.8,262.6 173.4,262.6 175.0,262.6 176.6,262.6 178.2,262.6 179.9,262.6 181.5,262.6 183.1,262.6" fill="none" stroke="#8ce88c" stroke-width="0.80" stroke-dasharray="0.8 0.8" stroke-linejoin="round" marker-start="url(#mBDA)" marker-mid="url(#mBDA)" marker-end="url(#mBDA)"/>
<polyline points="22.7,215.0 24.3,252.2 25.9,252.2 27.6,252.2 29.2,252.2 30.8,252.2 32.4,252.2 34.0,252.2 35.7,252.2 37.3,252.2 38.9,252.2 40.5,252.2 42.1,252.2 43.8,252.2 45.4,252.2 47.0,252.2 48.6,252.2 50.2,252.2 51.9,252.2 53.5,252.2 55.1,252.2 56.7,252.2 58.3,252.2 60.0,252.2 61.6,252.2 63.2,252.2 64.8,252.2 66.4,252.2 68.1,252.2 69.7,252.2 71.3,252.2 72.9,252.2 74.5,252.2 76.2,252.2 77.8,252.2 79.4,252.2 81.0,252.2 82.6,252.2 84.3,252.2 85.9,252.2 87.5,252.2 89.1,252.2 90.7,252.2 92.4,252.2 94.0,252.2 95.6,252.2 97.2,252.2 98.8,252.2 100.5,252.2 102.1,252.2 103.7,252.2 105.3,252.2 107.0,252.2 108.6,252.2 110.2,252.2 111.8,252.2 113.4,252.2 115.1,252.2 116.7,252.2 118.3,252.2 119.9,252.2 121.5,252.2 123.2,252.2 124.8,252.2 126.4,252.2 128.0,252.2 129.6,252.2 131.3,252.2 132.9,252.2 134.5,252.2 136.1,252.2 137.7,252.2 139.4,252.2 141.0,252.2 142.6,252.2 144.2,252.2 145.8,252.2 147.5,252.2 149.1,252.2 150.7,252.2 152.3,252.2 153.9,252.2 155.6,252.2 157.2,252.2 158.8,252.2 160.4,252.2 162.0,252.2 163.7,252.2 165.3,252.2 166.9,252.2 168.5,252.2 170.1,252.2 171.8,252.2 173.4,252.2 175.0,252.2 176.6,252.2 178.2,252.2 179.9,252.2 181.5,252.2 183.1,252.2" fill="none" stroke="#9a9af2" stroke-width="0.60" stroke-dasharray="1.6 0.8" stroke-linejoin="round" marker-start="url(#mBCCSA)" marker-mid="url(#mBCCSA)" marker-end="url(#mBCCSA)"/>
<polyline points="22.7,233.8 24.3,233.8 25.9,234.6 27.6,235.2 29.2,235.2 30.8,235.2 32.4,235.2 34.0,235.2 35.7,235.2 37.3,248.6 38.9,248.6 40.5,248.6 42.1,248.6 43.8,248.6 45.4,248.6 47.0,248.6 48.6,248.6 50.2,248.6 51.9,248.6 53.5,248.6 55.1,248.6 56.7,248.6 58.3,248.6 60.0,248.6 61.6,248.6 63.2,261.9 64.8,261.9 66.4,261.9 68.1,261.9 69.7,261.9 71.3,261.9 72.9,261.9 74.5,261.9 76.2,261.9 77.8,261.9 79.4,261.9 81.0,261.9 82.6,261.9 84.3,261.9 85.9,261.9 87.5,261.9 89.1,261.9 90.7,261.9 92.4,261.9 94.0,261.9 95.6,261.9 97.2,261.9 98.8,261.9 100.5,261.9 102.1,261.9 103.7,261.9 105.3,261.9 107.0,261.9 108.6,261.9 110.2,261.9 111.8,261.9 113.4,261.9 115.1,261.9 116.7,261.9 118.3,261.9 119.9,261.9 121.5,261.9 123.2,261.9 124.8,261.9 126.4,261.9 128.0,261.9 129.6,261.9 131.3,261.9 132.9,261.9 134.5,261.9 136.1,261.9 137.7,261.9 139.4,261.9 141.0,261.9 142.6,261.9 144.2,261.9 145.8,261.9 147.5,261.9 149.1,261.9 150.7,261.9 152.3,261.9 153.9,261.9 155.6,261.9 157.2,261.9 158.8,261.9 160.4,261.9 162.0,261.9 163.7,261.9 165.3,261.9 166.9,261.9 168.5,261.9 170.1,261.9 171.8,261.9 173.4,261.9 175.0,261.9 176.6,261.9 178.2,261.9 179.9,261.9 181.5,261.9 183.1,261.9" fill="none" stroke="#6060e4" stroke-width="0.65" stroke-linejoin="round" marker-start="url(#mBFFAG)" marker-mid="url(#mBFFAG)" marker-end="url(#mBFFAG)"/>
<polyline points="22.7,238.0 24.3,244.0 25.9,250.8 27.6,262.3 29.2,273.6 30.8,278.6 32.4,278.6 34.0,278.6 35.7,278.6 37.3,278.6 38.9,278.6 40.5,278.6 42.1,278.6 43.8,278.6 45.4,278.6 47.0,278.6 48.6,278.6 50.2,278.6 51.9,278.6 53.5,278.6 55.1,278.6 56.7,278.6 58.3,278.6 60.0,278.6 61.6,278.6 63.2,278.6 64.8,278.6 66.4,278.6 68.1,278.6 69.7,278.6 71.3,278.6 72.9,278.6 74.5,278.6 76.2,278.6 77.8,278.6 79.4,278.6 81.0,278.6 82.6,278.6 84.3,278.6 85.9,278.6 87.5,278.6 89.1,278.6 90.7,278.6 92.4,278.6 94.0,278.6 95.6,278.6 97.2,278.6 98.8,278.6 100.5,278.6 102.1,278.6 103.7,278.6 105.3,278.6 107.0,278.6 108.6,278.6 110.2,278.6 111.8,278.6 113.4,278.6 115.1,278.6 116.7,278.6 118.3,278.6 119.9,278.6 121.5,278.6 123.2,278.6 124.8,278.6 126.4,278.6 128.0,278.6 129.6,278.6 131.3,278.6 132.9,278.6 134.5,278.6 136.1,278.6 137.7,278.6 139.4,278.6 141.0,278.6 142.6,278.6 144.2,278.6 145.8,278.6 147.5,278.6 149.1,278.6 150.7,278.6 152.3,278.6 153.9,278.6 155.6,278.6 157.2,278.6 158.8,278.6 160.4,278.6 162.0,278.6 163.7,278.6 165.3,278.6 166.9,278.6 168.5,278.6 170.1,278.6 171.8,278.6 173.4,278.6 175.0,278.6 176.6,278.6 178.2,278.6 179.9,278.6 181.5,278.6 183.1,278.6" fill="none" stroke="#5050dc" stroke-width="0.65" stroke-linejoin="round" marker-start="url(#mBAVOAV1)" marker-mid="url(#mBAVOAV1)" marker-end="url(#mBAVOAV1)"/>
<path d="M22.9,226 L26,251 L28,265.5 L30,272 L32.5,279 L33.8,325.5 H183.1" fill="none" stroke="#555555" stroke-width="0.60" stroke-linejoin="round"/>
<path d="M22.70,206.50 V333.50 H183.10" fill="none" stroke="#8a8a8a" stroke-width="0.6"/>
<text x="37.28" y="341.06" font-size="4.90" text-anchor="middle" class="t">10</text>
<text x="53.48" y="341.06" font-size="4.90" text-anchor="middle" class="t">20</text>
<text x="69.69" y="341.06" font-size="4.90" text-anchor="middle" class="t">30</text>
<text x="85.89" y="341.06" font-size="4.90" text-anchor="middle" class="t">40</text>
<text x="102.09" y="341.06" font-size="4.90" text-anchor="middle" class="t">50</text>
<text x="118.29" y="341.06" font-size="4.90" text-anchor="middle" class="t">60</text>
<text x="134.49" y="341.06" font-size="4.90" text-anchor="middle" class="t">70</text>
<text x="150.70" y="341.06" font-size="4.90" text-anchor="middle" class="t">80</text>
<text x="166.90" y="341.06" font-size="4.90" text-anchor="middle" class="t">90</text>
<text x="183.10" y="341.06" font-size="4.90" text-anchor="middle" class="t">100</text>
<text x="20.30" y="335.26" font-size="4.90" text-anchor="end" class="t">0.32</text>
<text x="20.30" y="322.56" font-size="4.90" text-anchor="end" class="t">0.33</text>
<text x="20.30" y="309.86" font-size="4.90" text-anchor="end" class="t">0.34</text>
<text x="20.30" y="297.16" font-size="4.90" text-anchor="end" class="t">0.35</text>
<text x="20.30" y="284.46" font-size="4.90" text-anchor="end" class="t">0.36</text>
<text x="20.30" y="271.76" font-size="4.90" text-anchor="end" class="t">0.37</text>
<text x="20.30" y="259.06" font-size="4.90" text-anchor="end" class="t">0.38</text>
<text x="20.30" y="246.36" font-size="4.90" text-anchor="end" class="t">0.39</text>
<text x="20.30" y="233.66" font-size="4.90" text-anchor="end" class="t">0.4</text>
<text x="20.30" y="220.96" font-size="4.90" text-anchor="end" class="t">0.41</text>
<text x="20.30" y="208.26" font-size="4.90" text-anchor="end" class="t">0.42</text>
<path d="M37.28,333.50 v-1.4 M53.48,333.50 v-1.4 M69.69,333.50 v-1.4 M85.89,333.50 v-1.4 M102.09,333.50 v-1.4 M118.29,333.50 v-1.4 M134.49,333.50 v-1.4 M150.70,333.50 v-1.4 M166.90,333.50 v-1.4 M183.10,333.50 v-1.4 M22.70,333.50 h1.4 M22.70,320.80 h1.4 M22.70,308.10 h1.4 M22.70,295.40 h1.4 M22.70,282.70 h1.4 M22.70,270.00 h1.4 M22.70,257.30 h1.4 M22.70,244.60 h1.4 M22.70,231.90 h1.4 M22.70,219.20 h1.4 M22.70,206.50 h1.4" stroke="#8a8a8a" stroke-width="0.5"/>
<text x="102.90" y="348.46" font-size="5.45" text-anchor="middle" class="t">Iteration</text>
<text transform="translate(8.51,270.00) rotate(-90)" font-size="5.30" text-anchor="middle" class="t">Best Fitness</text>
<text x="103.00" y="205.20" font-size="5.40" font-weight="bold" text-anchor="middle" class="ti">SMK-CAN-187</text>
<rect x="137.50" y="210.20" width="42.30" height="50.00" fill="#fff" stroke="#9a9a9a" stroke-width="0.5"/>
<path d="M139.00,213.80 H153.10" stroke="#f2a6b0" stroke-width="0.60" stroke-dasharray="0.8 0.8"/>

<text x="155.30" y="215.92" font-size="4.50" class="lg">BBA</text>
<path d="M139.00,220.01 H153.10" stroke="#e0303a" stroke-width="0.60"/>
<circle cx="146.05" cy="220.01" r="0.80" fill="#e0303a"/>
<text x="155.30" y="222.13" font-size="4.50" class="lg">BPSO</text>
<path d="M139.00,226.23 H153.10" stroke="#84e684" stroke-width="0.60" stroke-dasharray="1.6 0.7 0.5 0.7"/>
<circle cx="146.05" cy="226.23" r="0.60" fill="#84e684"/>
<text x="155.30" y="228.35" font-size="4.50" class="lg">BGWO</text>
<path d="M139.00,232.44 H153.10" stroke="#8ce88c" stroke-width="0.60" stroke-dasharray="0.8 0.8"/>
<circle cx="146.05" cy="232.44" r="1.00" fill="#8ce88c"/>
<text x="155.30" y="234.56" font-size="4.50" class="lg">BDA</text>
<path d="M139.00,238.66 H153.10" stroke="#9a9af2" stroke-width="0.60" stroke-dasharray="1.4 0.8"/>
<circle cx="146.05" cy="238.66" r="0.50" fill="#9a9af2"/>
<text x="155.30" y="240.78" font-size="4.50" class="lg">BCCSA</text>
<path d="M139.00,244.87 H153.10" stroke="#6060e4" stroke-width="0.60"/>
<circle cx="146.05" cy="244.87" r="1.20" fill="#6060e4"/>
<text x="155.30" y="246.99" font-size="4.50" class="lg">BFFAG</text>
<path d="M139.00,251.09 H153.10" stroke="#5050dc" stroke-width="0.60"/>
<path d="M144.75,249.79 L147.35,251.09 L144.75,252.39 Z" fill="#5050dc"/>
<text x="155.30" y="253.21" font-size="4.50" class="lg">BAVOA-V1</text>
<path d="M139.00,257.30 H153.10" stroke="#555555" stroke-width="0.60"/>

<text x="155.30" y="259.42" font-size="4.50" class="lg">BAVOAH</text></g>
<g><path d="M242.8,240 L244,251.2 H409.5" fill="none" stroke="#f2a6b0" stroke-width="0.70" stroke-dasharray="0.9 0.9" stroke-linejoin="round"/>
<polyline points="242.8,251.2 244.5,252.6 246.2,260.1 247.9,260.1 249.5,260.1 251.2,260.1 252.9,260.1 254.6,260.1 256.3,275.5 258.0,278.8 259.6,278.8 261.3,278.8 263.0,287.1 264.7,296.5 266.4,296.5 268.1,296.5 269.7,296.5 271.4,296.5 273.1,296.5 274.8,296.5 276.5,296.5 278.2,296.5 279.8,296.5 281.5,296.5 283.2,296.5 284.9,296.5 286.6,296.5 288.3,296.5 289.9,296.5 291.6,296.5 293.3,296.5 295.0,296.5 296.7,296.5 298.4,296.5 300.1,296.5 301.7,296.5 303.4,296.5 305.1,296.5 306.8,296.5 308.5,296.5 310.2,296.5 311.8,296.5 313.5,296.5 315.2,296.5 316.9,296.5 318.6,296.5 320.3,296.5 321.9,296.5 323.6,296.5 325.3,296.5 327.0,296.5 328.7,296.5 330.4,296.5 332.0,296.5 333.7,296.5 335.4,296.5 337.1,296.5 338.8,296.5 340.5,296.5 342.1,296.5 343.8,296.5 345.5,296.5 347.2,296.5 348.9,296.5 350.6,296.5 352.2,296.5 353.9,296.5 355.6,296.5 357.3,296.5 359.0,296.5 360.7,296.5 362.4,296.5 364.0,296.5 365.7,296.5 367.4,296.5 369.1,296.5 370.8,296.5 372.5,296.5 374.1,296.5 375.8,296.5 377.5,296.5 379.2,296.5 380.9,296.5 382.6,296.5 384.2,296.5 385.9,296.5 387.6,296.5 389.3,296.5 391.0,296.5 392.7,296.5 394.3,296.5 396.0,296.5 397.7,296.5 399.4,296.5 401.1,296.5 402.8,296.5 404.4,296.5 406.1,296.5 407.8,296.5 409.5,296.5" fill="none" stroke="#e0303a" stroke-width="0.90" stroke-linejoin="round" marker-start="url(#mBPSO)" marker-mid="url(#mBPSO)" marker-end="url(#mBPSO)"/>
<polyline points="242.8,233.2 244.5,233.2 246.2,233.2 247.9,233.2 249.5,233.2 251.2,233.2 252.9,233.2 254.6,254.7 256.3,269.5 258.0,269.5 259.6,269.5 261.3,269.5 263.0,278.6 264.7,278.6 266.4,278.6 268.1,278.6 269.7,278.6 271.4,278.6 273.1,278.6 274.8,278.6 276.5,278.6 278.2,278.6 279.8,278.6 281.5,278.6 283.2,278.6 284.9,278.6 286.6,278.6 288.3,278.6 289.9,278.6 291.6,278.6 293.3,278.6 295.0,278.6 296.7,278.6 298.4,278.6 300.1,278.6 301.7,278.6 303.4,278.6 305.1,278.6 306.8,278.6 308.5,278.6 310.2,278.6 311.8,278.6 313.5,278.6 315.2,278.6 316.9,278.6 318.6,278.6 320.3,278.6 321.9,278.6 323.6,278.6 325.3,278.6 327.0,278.6 328.7,278.6 330.4,278.6 332.0,278.6 333.7,278.6 335.4,278.6 337.1,278.6 338.8,278.6 340.5,278.6 342.1,278.6 343.8,278.6 345.5,278.6 347.2,278.6 348.9,286.1 350.6,286.8 352.2,286.8 353.9,286.8 355.6,286.8 357.3,286.8 359.0,286.8 360.7,286.8 362.4,286.8 364.0,286.8 365.7,286.8 367.4,286.8 369.1,286.8 370.8,286.8 372.5,286.8 374.1,286.8 375.8,286.8 377.5,286.8 379.2,286.8 380.9,286.8 382.6,286.8 384.2,286.8 385.9,286.8 387.6,286.8 389.3,289.1 391.0,297.5 392.7,297.5 394.3,297.5 396.0,297.5 397.7,297.5 399.4,297.5 401.1,297.5 402.8,306.0 404.4,306.0 406.1,306.0 407.8,306.0 409.5,306.0" fill="none" stroke="#84e684" stroke-width="0.90" stroke-linejoin="round" marker-start="url(#mBGWO)" marker-mid="url(#mBGWO)" marker-end="url(#mBGWO)"/>
<polyline points="242.8,240.0 244.5,246.0 246.2,251.9 247.9,257.9 249.5,263.3 251.2,267.4 252.9,271.6 254.6,275.7 256.3,276.7 258.0,276.7 259.6,276.7 261.3,276.7 263.0,276.7 264.7,276.7 266.4,276.7 268.1,276.7 269.7,276.7 271.4,276.7 273.1,276.7 274.8,276.7 276.5,276.7 278.2,276.7 279.8,276.7 281.5,276.7 283.2,276.7 284.9,276.7 286.6,276.7 288.3,276.7 289.9,276.7 291.6,276.7 293.3,276.7 295.0,276.7 296.7,276.7 298.4,276.7 300.1,276.7 301.7,276.7 303.4,276.7 305.1,276.7 306.8,276.7 308.5,276.7 310.2,276.7 311.8,276.7 313.5,276.7 315.2,276.7 316.9,276.7 318.6,276.7 320.3,276.7 321.9,276.7 323.6,276.7 325.3,276.7 327.0,276.7 328.7,276.7 330.4,276.7 332.0,276.7 333.7,276.7 335.4,276.7 337.1,276.7 338.8,276.7 340.5,276.7 342.1,276.7 343.8,276.7 345.5,276.7 347.2,276.7 348.9,276.7 350.6,276.7 352.2,276.7 353.9,276.7 355.6,276.7 357.3,276.7 359.0,276.7 360.7,276.7 362.4,276.7 364.0,276.7 365.7,276.7 367.4,276.7 369.1,276.7 370.8,276.7 372.5,276.7 374.1,276.7 375.8,276.7 377.5,276.7 379.2,276.7 380.9,276.7 382.6,276.7 384.2,276.7 385.9,276.7 387.6,276.7 389.3,276.7 391.0,276.7 392.7,276.7 394.3,276.7 396.0,276.7 397.7,276.7 399.4,276.7 401.1,276.7 402.8,276.7 404.4,276.7 406.1,276.7 407.8,276.7 409.5,276.7" fill="none" stroke="#8ce88c" stroke-width="0.80" stroke-dasharray="0.8 0.8" stroke-linejoin="round" marker-start="url(#mBDA)" marker-mid="url(#mBDA)" marker-end="url(#mBDA)"/>
<polyline points="242.8,211.5 244.5,215.2 246.2,215.2 247.9,215.2 249.5,215.2 251.2,215.2 252.9,215.2 254.6,215.2 256.3,215.2 258.0,215.2 259.6,215.2 261.3,215.2 263.0,215.2 264.7,215.2 266.4,215.2 268.1,215.2 269.7,215.2 271.4,215.2 273.1,215.2 274.8,215.2 276.5,215.2 278.2,215.2 279.8,215.2 281.5,215.2 283.2,215.2 284.9,215.2 286.6,215.2 288.3,215.2 289.9,215.2 291.6,226.0 293.3,226.0 295.0,226.0 296.7,226.0 298.4,226.0 300.1,226.0 301.7,226.0 303.4,226.0 305.1,226.0 306.8,226.0 308.5,226.0 310.2,226.0 311.8,226.0 313.5,226.0 315.2,226.0 316.9,226.0 318.6,226.0 320.3,226.0 321.9,226.0 323.6,226.0 325.3,226.0 327.0,226.0 328.7,226.0 330.4,226.0 332.0,226.0 333.7,226.0 335.4,226.0 337.1,226.0 338.8,226.0 340.5,226.0 342.1,226.0 343.8,226.0 345.5,226.0 347.2,226.0 348.9,226.0 350.6,226.0 352.2,226.0 353.9,226.0 355.6,226.0 357.3,226.0 359.0,226.0 360.7,226.0 362.4,226.0 364.0,226.0 365.7,226.0 367.4,226.0 369.1,226.0 370.8,226.0 372.5,226.0 374.1,226.0 375.8,226.0 377.5,226.0 379.2,226.0 380.9,226.0 382.6,226.0 384.2,226.0 385.9,226.0 387.6,226.0 389.3,226.0 391.0,226.0 392.7,226.0 394.3,226.0 396.0,226.0 397.7,226.0 399.4,226.0 401.1,226.0 402.8,226.0 404.4,226.0 406.1,226.0 407.8,226.0 409.5,226.0" fill="none" stroke="#9a9af2" stroke-width="0.60" stroke-dasharray="1.6 0.8" stroke-linejoin="round" marker-start="url(#mBCCSA)" marker-mid="url(#mBCCSA)" marker-end="url(#mBCCSA)"/>
<polyline points="242.8,223.0 244.5,221.8 246.2,231.7 247.9,245.0 249.5,245.0 251.2,245.0 252.9,245.0 254.6,245.0 256.3,278.6 258.0,278.6 259.6,278.6 261.3,278.6 263.0,278.6 264.7,278.6 266.4,278.6 268.1,278.6 269.7,278.6 271.4,278.6 273.1,278.6 274.8,278.6 276.5,278.6 278.2,278.6 279.8,278.6 281.5,295.3 283.2,295.3 284.9,295.3 286.6,295.3 288.3,295.3 289.9,295.3 291.6,295.3 293.3,295.3 295.0,295.3 296.7,295.3 298.4,295.3 300.1,295.3 301.7,295.3 303.4,295.3 305.1,295.3 306.8,295.3 308.5,295.3 310.2,295.3 311.8,295.3 313.5,295.3 315.2,295.3 316.9,295.3 318.6,295.3 320.3,295.3 321.9,295.3 323.6,295.3 325.3,295.3 327.0,295.3 328.7,295.3 330.4,295.3 332.0,295.3 333.7,295.3 335.4,295.3 337.1,295.3 338.8,295.3 340.5,295.3 342.1,295.3 343.8,295.3 345.5,295.3 347.2,295.3 348.9,295.3 350.6,295.3 352.2,295.3 353.9,295.3 355.6,295.3 357.3,295.3 359.0,295.3 360.7,295.3 362.4,295.3 364.0,295.3 365.7,295.3 367.4,295.3 369.1,295.3 370.8,295.3 372.5,295.3 374.1,295.3 375.8,295.3 377.5,295.3 379.2,295.3 380.9,295.3 382.6,295.3 384.2,295.3 385.9,295.3 387.6,295.3 389.3,295.3 391.0,295.3 392.7,295.3 394.3,295.3 396.0,295.3 397.7,295.3 399.4,295.3 401.1,295.3 402.8,295.3 404.4,295.3 406.1,295.3 407.8,295.3 409.5,295.3" fill="none" stroke="#6060e4" stroke-width="0.65" stroke-linejoin="round" marker-start="url(#mBFFAG)" marker-mid="url(#mBFFAG)" marker-end="url(#mBFFAG)"/>
<polyline points="242.8,212.0 244.5,232.8 246.2,247.2 247.9,257.5 249.5,267.0 251.2,267.0 252.9,267.0 254.6,267.0 256.3,267.0 258.0,267.0 259.6,267.0 261.3,267.0 263.0,267.0 264.7,267.0 266.4,267.0 268.1,267.0 269.7,267.0 271.4,267.0 273.1,267.0 274.8,267.0 276.5,267.0 278.2,267.0 279.8,267.0 281.5,267.0 283.2,267.0 284.9,267.0 286.6,267.0 288.3,267.0 289.9,267.0 291.6,267.0 293.3,267.0 295.0,267.0 296.7,267.0 298.4,267.0 300.1,267.0 301.7,267.0 303.4,267.0 305.1,267.0 306.8,267.0 308.5,267.0 310.2,267.0 311.8,276.2 313.5,276.2 315.2,276.2 316.9,276.2 318.6,276.2 320.3,276.2 321.9,276.2 323.6,276.2 325.3,276.2 327.0,276.2 328.7,276.2 330.4,276.2 332.0,276.2 333.7,276.2 335.4,276.2 337.1,276.2 338.8,276.2 340.5,276.2 342.1,276.2 343.8,276.2 345.5,276.2 347.2,276.2 348.9,276.2 350.6,276.2 352.2,276.2 353.9,276.2 355.6,276.2 357.3,276.2 359.0,276.2 360.7,276.2 362.4,276.2 364.0,276.2 365.7,276.2 367.4,276.2 369.1,276.2 370.8,276.2 372.5,276.2 374.1,276.2 375.8,276.2 377.5,276.2 379.2,276.2 380.9,276.2 382.6,276.2 384.2,276.2 385.9,276.2 387.6,276.2 389.3,276.2 391.0,276.2 392.7,276.2 394.3,276.2 396.0,276.2 397.7,276.2 399.4,276.2 401.1,276.2 402.8,276.2 404.4,276.2 406.1,276.2 407.8,276.2 409.5,276.2" fill="none" stroke="#5050dc" stroke-width="0.65" stroke-linejoin="round" marker-start="url(#mBAVOAV1)" marker-mid="url(#mBAVOAV1)" marker-end="url(#mBAVOAV1)"/>
<path d="M242.8,235 L243.5,242.6 H249.4 L252,262 L255,278 L259,290 L262,295.9 H315.3 L316.2,305.3 H343.4 L344.3,314.3 H389.6 L390.5,323.2 H409.5" fill="none" stroke="#555555" stroke-width="0.60" stroke-linejoin="round"/>
<path d="M242.80,204.50 V335.60 H409.50" fill="none" stroke="#8a8a8a" stroke-width="0.6"/>
<text x="257.95" y="343.16" font-size="4.90" text-anchor="middle" class="t">10</text>
<text x="274.79" y="343.16" font-size="4.90" text-anchor="middle" class="t">20</text>
<text x="291.63" y="343.16" font-size="4.90" text-anchor="middle" class="t">30</text>
<text x="308.47" y="343.16" font-size="4.90" text-anchor="middle" class="t">40</text>
<text x="325.31" y="343.16" font-size="4.90" text-anchor="middle" class="t">50</text>
<text x="342.15" y="343.16" font-size="4.90" text-anchor="middle" class="t">60</text>
<text x="358.98" y="343.16" font-size="4.90" text-anchor="middle" class="t">70</text>
<text x="375.82" y="343.16" font-size="4.90" text-anchor="middle" class="t">80</text>
<text x="392.66" y="343.16" font-size="4.90" text-anchor="middle" class="t">90</text>
<text x="409.50" y="343.16" font-size="4.90" text-anchor="middle" class="t">100</text>
<text x="240.40" y="337.36" font-size="4.90" text-anchor="end" class="t">0.02</text>
<text x="240.40" y="318.64" font-size="4.90" text-anchor="end" class="t">0.04</text>
<text x="240.40" y="299.91" font-size="4.90" text-anchor="end" class="t">0.06</text>
<text x="240.40" y="281.18" font-size="4.90" text-anchor="end" class="t">0.08</text>
<text x="240.40" y="262.45" font-size="4.90" text-anchor="end" class="t">0.1</text>
<text x="240.40" y="243.72" font-size="4.90" text-anchor="end" class="t">0.12</text>
<text x="240.40" y="224.99" font-size="4.90" text-anchor="end" class="t">0.14</text>
<text x="240.40" y="206.26" font-size="4.90" text-anchor="end" class="t">0.16</text>
<path d="M257.95,335.60 v-1.4 M274.79,335.60 v-1.4 M291.63,335.60 v-1.4 M308.47,335.60 v-1.4 M325.31,335.60 v-1.4 M342.15,335.60 v-1.4 M358.98,335.60 v-1.4 M375.82,335.60 v-1.4 M392.66,335.60 v-1.4 M409.50,335.60 v-1.4 M242.80,335.60 h1.4 M242.80,316.87 h1.4 M242.80,298.14 h1.4 M242.80,279.41 h1.4 M242.80,260.69 h1.4 M242.80,241.96 h1.4 M242.80,223.23 h1.4 M242.80,204.50 h1.4" stroke="#8a8a8a" stroke-width="0.5"/>
<text x="326.15" y="349.76" font-size="5.45" text-anchor="middle" class="t">Iteration</text>
<text transform="translate(227.51,270.05) rotate(-90)" font-size="5.30" text-anchor="middle" class="t">Best Fitness</text>
<text x="326.70" y="201.80" font-size="5.40" font-weight="bold" text-anchor="middle" class="ti">sonar</text>
<rect x="362.20" y="207.90" width="44.00" height="51.60" fill="#fff" stroke="#9a9a9a" stroke-width="0.5"/>
<path d="M364.00,211.50 H378.80" stroke="#f2a6b0" stroke-width="0.60" stroke-dasharray="0.8 0.8"/>

<text x="381.00" y="213.62" font-size="4.50" class="lg">BBA</text>
<path d="M364.00,217.86 H378.80" stroke="#e0303a" stroke-width="0.60"/>
<circle cx="371.40" cy="217.86" r="0.80" fill="#e0303a"/>
<text x="381.00" y="219.98" font-size="4.50" class="lg">BPSO</text>
<path d="M364.00,224.21 H378.80" stroke="#84e684" stroke-width="0.60" stroke-dasharray="1.6 0.7 0.5 0.7"/>
<circle cx="371.40" cy="224.21" r="0.60" fill="#84e684"/>
<text x="381.00" y="226.33" font-size="4.50" class="lg">BGWO</text>
<path d="M364.00,230.57 H378.80" stroke="#8ce88c" stroke-width="0.60" stroke-dasharray="0.8 0.8"/>
<circle cx="371.40" cy="230.57" r="1.00" fill="#8ce88c"/>
<text x="381.00" y="232.69" font-size="4.50" class="lg">BDA</text>
<path d="M364.00,236.93 H378.80" stroke="#9a9af2" stroke-width="0.60" stroke-dasharray="1.4 0.8"/>
<circle cx="371.40" cy="236.93" r="0.50" fill="#9a9af2"/>
<text x="381.00" y="239.05" font-size="4.50" class="lg">BCCSA</text>
<path d="M364.00,243.29 H378.80" stroke="#6060e4" stroke-width="0.60"/>
<circle cx="371.40" cy="243.29" r="1.20" fill="#6060e4"/>
<text x="381.00" y="245.41" font-size="4.50" class="lg">BFFAG</text>
<path d="M364.00,249.64 H378.80" stroke="#5050dc" stroke-width="0.60"/>
<path d="M370.10,248.34 L372.70,249.64 L370.10,250.94 Z" fill="#5050dc"/>
<text x="381.00" y="251.76" font-size="4.50" class="lg">BAVOA-V1</text>
<path d="M364.00,256.00 H378.80" stroke="#555555" stroke-width="0.60"/>

<text x="381.00" y="258.12" font-size="4.50" class="lg">BAVOAH</text></g>
<g><path d="M21.2,405 L22.8,426.5 H183.6" fill="none" stroke="#f2a6b0" stroke-width="0.70" stroke-dasharray="0.9 0.9" stroke-linejoin="round"/>
<polyline points="21.2,500.0 22.8,502.9 24.5,502.9 26.1,502.9 27.8,502.9 29.4,502.9 31.0,502.9 32.7,502.9 34.3,502.9 36.0,502.9 37.6,502.9 39.2,502.9 40.9,502.9 42.5,502.9 44.2,502.9 45.8,502.9 47.4,502.9 49.1,502.9 50.7,502.9 52.4,502.9 54.0,502.9 55.6,502.9 57.3,502.9 58.9,502.9 60.6,502.9 62.2,502.9 63.9,502.9 65.5,502.9 67.1,502.9 68.8,502.9 70.4,502.9 72.1,502.9 73.7,502.9 75.3,502.9 77.0,502.9 78.6,502.9 80.3,502.9 81.9,513.0 83.5,514.2 85.2,514.2 86.8,514.2 88.5,514.2 90.1,514.2 91.7,514.2 93.4,514.2 95.0,514.2 96.7,514.2 98.3,514.2 99.9,514.2 101.6,514.2 103.2,514.2 104.9,514.2 106.5,514.2 108.1,514.2 109.8,514.2 111.4,514.2 113.1,514.2 114.7,514.2 116.3,514.2 118.0,514.2 119.6,514.2 121.3,514.2 122.9,514.2 124.5,514.2 126.2,514.2 127.8,514.2 129.5,514.2 131.1,514.2 132.7,514.2 134.4,514.2 136.0,514.2 137.7,514.2 139.3,514.2 140.9,514.2 142.6,514.2 144.2,514.2 145.9,514.2 147.5,514.2 149.2,514.2 150.8,514.2 152.4,514.2 154.1,514.2 155.7,514.2 157.4,514.2 159.0,514.2 160.6,514.2 162.3,514.2 163.9,514.2 165.6,514.2 167.2,514.2 168.8,514.2 170.5,514.2 172.1,514.2 173.8,514.2 175.4,514.2 177.0,514.2 178.7,514.2 180.3,514.2 182.0,514.2 183.6,514.2" fill="none" stroke="#e0303a" stroke-width="0.90" stroke-linejoin="round" marker-start="url(#mBPSO)" marker-mid="url(#mBPSO)" marker-end="url(#mBPSO)"/>
<polyline points="21.2,440.0 22.8,477.6 24.5,481.3 26.1,481.3 27.8,481.3 29.4,481.3 31.0,481.3 32.7,481.3 34.3,481.3 36.0,481.3 37.6,481.3 39.2,481.3 40.9,481.3 42.5,481.3 44.2,481.3 45.8,481.3 47.4,481.3 49.1,481.3 50.7,481.3 52.4,481.3 54.0,481.3 55.6,481.3 57.3,481.3 58.9,481.3 60.6,481.3 62.2,481.3 63.9,481.3 65.5,481.3 67.1,481.3 68.8,481.3 70.4,481.3 72.1,481.3 73.7,481.3 75.3,481.3 77.0,481.3 78.6,481.3 80.3,481.3 81.9,481.3 83.5,481.3 85.2,481.3 86.8,481.3 88.5,481.3 90.1,481.3 91.7,481.3 93.4,481.3 95.0,481.3 96.7,481.3 98.3,484.0 99.9,486.8 101.6,486.8 103.2,486.8 104.9,486.8 106.5,486.8 108.1,486.8 109.8,486.8 111.4,489.9 113.1,497.8 114.7,497.8 116.3,497.8 118.0,497.8 119.6,503.9 121.3,503.9 122.9,503.9 124.5,503.9 126.2,503.9 127.8,503.9 129.5,503.9 131.1,503.9 132.7,503.9 134.4,503.9 136.0,504.1 137.7,517.0 139.3,520.2 140.9,520.2 142.6,520.2 144.2,520.2 145.9,520.2 147.5,520.2 149.2,520.2 150.8,520.2 152.4,526.0 154.1,526.0 155.7,526.0 157.4,526.0 159.0,526.0 160.6,526.0 162.3,526.0 163.9,526.0 165.6,526.0 167.2,526.0 168.8,526.0 170.5,526.0 172.1,526.0 173.8,526.0 175.4,526.0 177.0,526.0 178.7,526.0 180.3,526.0 182.0,526.0 183.6,526.0" fill="none" stroke="#84e684" stroke-width="0.90" stroke-linejoin="round" marker-start="url(#mBGWO)" marker-mid="url(#mBGWO)" marker-end="url(#mBGWO)"/>
<polyline points="21.2,470.0 22.8,485.7 24.5,501.3 26.1,508.2 27.8,508.2 29.4,508.2 31.0,508.2 32.7,508.2 34.3,508.2 36.0,513.3 37.6,513.3 39.2,513.3 40.9,518.6 42.5,518.6 44.2,518.6 45.8,518.6 47.4,518.6 49.1,518.6 50.7,518.6 52.4,518.6 54.0,518.6 55.6,518.6 57.3,518.6 58.9,518.6 60.6,518.6 62.2,518.6 63.9,518.6 65.5,518.6 67.1,518.6 68.8,518.6 70.4,518.6 72.1,518.6 73.7,518.6 75.3,518.6 77.0,518.6 78.6,518.6 80.3,518.6 81.9,518.6 83.5,518.6 85.2,518.6 86.8,518.6 88.5,518.6 90.1,518.6 91.7,518.6 93.4,518.6 95.0,518.6 96.7,518.6 98.3,518.6 99.9,518.6 101.6,518.6 103.2,518.6 104.9,518.6 106.5,518.6 108.1,518.6 109.8,518.6 111.4,518.6 113.1,518.6 114.7,518.6 116.3,518.6 118.0,518.6 119.6,518.6 121.3,518.6 122.9,518.6 124.5,518.6 126.2,518.6 127.8,518.6 129.5,518.6 131.1,518.6 132.7,518.6 134.4,518.6 136.0,518.6 137.7,518.6 139.3,518.6 140.9,518.6 142.6,518.6 144.2,518.6 145.9,518.6 147.5,518.6 149.2,518.6 150.8,518.6 152.4,518.6 154.1,518.6 155.7,518.6 157.4,518.6 159.0,518.6 160.6,518.6 162.3,518.6 163.9,518.6 165.6,518.6 167.2,518.6 168.8,518.6 170.5,518.6 172.1,518.6 173.8,518.6 175.4,518.6 177.0,518.6 178.7,518.6 180.3,518.6 182.0,518.6 183.6,518.6" fill="none" stroke="#8ce88c" stroke-width="0.80" stroke-dasharray="0.8 0.8" stroke-linejoin="round" marker-start="url(#mBDA)" marker-mid="url(#mBDA)" marker-end="url(#mBDA)"/>
<polyline points="21.2,452.0 22.8,455.1 24.5,455.1 26.1,455.1 27.8,455.1 29.4,455.1 31.0,455.1 32.7,455.1 34.3,455.1 36.0,455.1 37.6,455.1 39.2,455.1 40.9,455.1 42.5,455.1 44.2,455.1 45.8,455.1 47.4,455.1 49.1,455.1 50.7,455.1 52.4,455.1 54.0,455.1 55.6,455.1 57.3,455.1 58.9,455.1 60.6,455.1 62.2,455.1 63.9,455.1 65.5,455.1 67.1,455.1 68.8,455.1 70.4,455.1 72.1,455.1 73.7,455.1 75.3,455.1 77.0,455.1 78.6,455.1 80.3,455.1 81.9,455.1 83.5,455.1 85.2,455.1 86.8,455.1 88.5,455.1 90.1,455.1 91.7,455.1 93.4,455.1 95.0,455.1 96.7,455.1 98.3,455.1 99.9,455.1 101.6,455.1 103.2,455.1 104.9,455.1 106.5,455.1 108.1,455.1 109.8,455.1 111.4,455.1 113.1,455.1 114.7,455.1 116.3,455.1 118.0,455.1 119.6,455.1 121.3,455.1 122.9,455.1 124.5,455.1 126.2,455.1 127.8,455.1 129.5,455.1 131.1,455.1 132.7,455.1 134.4,455.1 136.0,455.1 137.7,455.1 139.3,455.1 140.9,455.1 142.6,455.1 144.2,455.1 145.9,455.1 147.5,455.1 149.2,455.1 150.8,455.1 152.4,455.1 154.1,455.1 155.7,455.1 157.4,455.1 159.0,455.1 160.6,455.1 162.3,455.1 163.9,455.1 165.6,455.1 167.2,455.1 168.8,455.1 170.5,455.1 172.1,455.1 173.8,455.1 175.4,455.1 177.0,455.1 178.7,455.1 180.3,455.1 182.0,455.1 183.6,455.1" fill="none" stroke="#9a9af2" stroke-width="0.60" stroke-dasharray="1.6 0.8" stroke-linejoin="round" marker-start="url(#mBCCSA)" marker-mid="url(#mBCCSA)" marker-end="url(#mBCCSA)"/>
<polyline points="21.2,479.4 22.8,492.8 24.5,492.8 26.1,492.8 27.8,492.8 29.4,492.8 31.0,492.8 32.7,492.8 34.3,492.8 36.0,492.8 37.6,492.8 39.2,492.8 40.9,492.8 42.5,492.8 44.2,496.8 45.8,497.0 47.4,497.0 49.1,497.0 50.7,497.0 52.4,497.0 54.0,497.0 55.6,497.0 57.3,497.0 58.9,497.0 60.6,497.0 62.2,497.0 63.9,497.0 65.5,497.0 67.1,497.0 68.8,497.0 70.4,497.0 72.1,497.0 73.7,497.0 75.3,497.0 77.0,497.0 78.6,497.0 80.3,497.0 81.9,497.0 83.5,497.0 85.2,497.0 86.8,497.0 88.5,497.0 90.1,497.0 91.7,497.0 93.4,497.0 95.0,497.0 96.7,497.0 98.3,497.0 99.9,497.0 101.6,497.0 103.2,497.0 104.9,499.1 106.5,502.2 108.1,502.2 109.8,502.2 111.4,502.2 113.1,502.2 114.7,502.2 116.3,502.2 118.0,502.2 119.6,502.2 121.3,502.2 122.9,502.2 124.5,502.2 126.2,502.2 127.8,502.2 129.5,502.2 131.1,502.2 132.7,502.2 134.4,502.2 136.0,502.2 137.7,502.2 139.3,502.2 140.9,502.2 142.6,502.2 144.2,502.2 145.9,502.2 147.5,502.2 149.2,502.2 150.8,502.2 152.4,502.2 154.1,502.2 155.7,502.2 157.4,502.2 159.0,502.2 160.6,502.2 162.3,502.2 163.9,502.2 165.6,502.2 167.2,502.2 168.8,502.2 170.5,502.2 172.1,502.2 173.8,502.2 175.4,502.2 177.0,502.2 178.7,502.2 180.3,502.2 182.0,502.2 183.6,502.2" fill="none" stroke="#6060e4" stroke-width="0.65" stroke-linejoin="round" marker-start="url(#mBFFAG)" marker-mid="url(#mBFFAG)" marker-end="url(#mBFFAG)"/>
<polyline points="21.2,460.0 22.8,492.5 24.5,496.0 26.1,496.0 27.8,496.0 29.4,496.0 31.0,496.0 32.7,496.0 34.3,496.0 36.0,496.0 37.6,496.0 39.2,496.0 40.9,496.0 42.5,496.0 44.2,497.7 45.8,497.8 47.4,497.8 49.1,497.8 50.7,497.8 52.4,497.8 54.0,497.8 55.6,497.8 57.3,497.8 58.9,497.8 60.6,497.8 62.2,497.8 63.9,497.8 65.5,497.8 67.1,497.8 68.8,497.8 70.4,497.8 72.1,497.8 73.7,497.8 75.3,497.8 77.0,500.2 78.6,501.6 80.3,501.6 81.9,501.6 83.5,501.6 85.2,501.6 86.8,501.6 88.5,501.6 90.1,501.6 91.7,501.6 93.4,501.6 95.0,501.6 96.7,501.6 98.3,501.6 99.9,501.6 101.6,501.6 103.2,501.6 104.9,501.6 106.5,501.6 108.1,501.6 109.8,501.6 111.4,501.6 113.1,501.6 114.7,501.6 116.3,501.6 118.0,501.6 119.6,501.6 121.3,501.6 122.9,501.6 124.5,501.6 126.2,501.6 127.8,501.6 129.5,501.6 131.1,501.6 132.7,501.6 134.4,501.6 136.0,501.6 137.7,501.6 139.3,501.6 140.9,501.6 142.6,501.6 144.2,501.6 145.9,501.6 147.5,501.6 149.2,501.6 150.8,501.6 152.4,501.6 154.1,501.6 155.7,501.6 157.4,501.6 159.0,501.6 160.6,501.6 162.3,501.6 163.9,501.6 165.6,501.6 167.2,501.6 168.8,501.6 170.5,501.6 172.1,501.6 173.8,501.6 175.4,501.6 177.0,501.6 178.7,501.6 180.3,501.6 182.0,501.6 183.6,501.6" fill="none" stroke="#5050dc" stroke-width="0.65" stroke-linejoin="round" marker-start="url(#mBAVOAV1)" marker-mid="url(#mBAVOAV1)" marker-end="url(#mBAVOAV1)"/>
<path d="M21.2,470 L22,480 L25,487 L27,490 L28,497 L29,505 L30,513 H32 L35,519 L37,524 L39,528 L41,531.3 H183.6" fill="none" stroke="#555555" stroke-width="0.60" stroke-linejoin="round"/>
<path d="M21.20,402.70 V531.50 H183.60" fill="none" stroke="#8a8a8a" stroke-width="0.6"/>
<text x="35.96" y="538.96" font-size="4.90" text-anchor="middle" class="t">10</text>
<text x="52.37" y="538.96" font-size="4.90" text-anchor="middle" class="t">20</text>
<text x="68.77" y="538.96" font-size="4.90" text-anchor="middle" class="t">30</text>
<text x="85.18" y="538.96" font-size="4.90" text-anchor="middle" class="t">40</text>
<text x="101.58" y="538.96" font-size="4.90" text-anchor="middle" class="t">50</text>
<text x="117.98" y="538.96" font-size="4.90" text-anchor="middle" class="t">60</text>
<text x="134.39" y="538.96" font-size="4.90" text-anchor="middle" class="t">70</text>
<text x="150.79" y="538.96" font-size="4.90" text-anchor="middle" class="t">80</text>
<text x="167.20" y="538.96" font-size="4.90" text-anchor="middle" class="t">90</text>
<text x="183.60" y="538.96" font-size="4.90" text-anchor="middle" class="t">100</text>
<text x="18.80" y="533.26" font-size="4.90" text-anchor="end" class="t">0.05</text>
<text x="18.80" y="490.33" font-size="4.90" text-anchor="end" class="t">0.1</text>
<text x="18.80" y="447.40" font-size="4.90" text-anchor="end" class="t">0.15</text>
<text x="18.80" y="404.46" font-size="4.90" text-anchor="end" class="t">0.2</text>
<path d="M35.96,531.50 v-1.4 M52.37,531.50 v-1.4 M68.77,531.50 v-1.4 M85.18,531.50 v-1.4 M101.58,531.50 v-1.4 M117.98,531.50 v-1.4 M134.39,531.50 v-1.4 M150.79,531.50 v-1.4 M167.20,531.50 v-1.4 M183.60,531.50 v-1.4 M21.20,531.50 h1.4 M21.20,488.57 h1.4 M21.20,445.63 h1.4 M21.20,402.70 h1.4" stroke="#8a8a8a" stroke-width="0.5"/>
<text x="102.40" y="546.36" font-size="5.45" text-anchor="middle" class="t">Iteration</text>
<text transform="translate(6.41,467.10) rotate(-90)" font-size="5.30" text-anchor="middle" class="t">Best Fitness</text>
<text x="103.00" y="400.80" font-size="5.40" font-weight="bold" text-anchor="middle" class="ti">soybean</text>
<rect x="138.40" y="406.30" width="42.40" height="51.00" fill="#fff" stroke="#9a9a9a" stroke-width="0.5"/>
<path d="M139.80,409.90 H154.50" stroke="#f2a6b0" stroke-width="0.60" stroke-dasharray="0.8 0.8"/>

<text x="156.70" y="412.02" font-size="4.50" class="lg">BBA</text>
<path d="M139.80,416.19 H154.50" stroke="#e0303a" stroke-width="0.60"/>
<circle cx="147.15" cy="416.19" r="0.80" fill="#e0303a"/>
<text x="156.70" y="418.31" font-size="4.50" class="lg">BPSO</text>
<path d="M139.80,422.47 H154.50" stroke="#84e684" stroke-width="0.60" stroke-dasharray="1.6 0.7 0.5 0.7"/>
<circle cx="147.15" cy="422.47" r="0.60" fill="#84e684"/>
<text x="156.70" y="424.59" font-size="4.50" class="lg">BGWO</text>
<path d="M139.80,428.76 H154.50" stroke="#8ce88c" stroke-width="0.60" stroke-dasharray="0.8 0.8"/>
<circle cx="147.15" cy="428.76" r="1.00" fill="#8ce88c"/>
<text x="156.70" y="430.88" font-size="4.50" class="lg">BDA</text>
<path d="M139.80,435.04 H154.50" stroke="#9a9af2" stroke-width="0.60" stroke-dasharray="1.4 0.8"/>
<circle cx="147.15" cy="435.04" r="0.50" fill="#9a9af2"/>
<text x="156.70" y="437.16" font-size="4.50" class="lg">BCCSA</text>
<path d="M139.80,441.33 H154.50" stroke="#6060e4" stroke-width="0.60"/>
<circle cx="147.15" cy="441.33" r="1.20" fill="#6060e4"/>
<text x="156.70" y="443.45" font-size="4.50" class="lg">BFFAG</text>
<path d="M139.80,447.61 H154.50" stroke="#5050dc" stroke-width="0.60"/>
<path d="M145.85,446.31 L148.45,447.61 L145.85,448.91 Z" fill="#5050dc"/>
<text x="156.70" y="449.73" font-size="4.50" class="lg">BAVOA-V1</text>
<path d="M139.80,453.90 H154.50" stroke="#555555" stroke-width="0.60"/>

<text x="156.70" y="456.02" font-size="4.50" class="lg">BAVOAH</text></g>
<g><path d="M247,415.6 H251.2 L252,446.9 H409" fill="none" stroke="#f2a6b0" stroke-width="0.70" stroke-dasharray="0.9 0.9" stroke-linejoin="round"/>
<polyline points="247.0,427.4 248.6,427.4 250.3,427.4 251.9,427.4 253.5,428.8 255.2,438.1 256.8,453.6 258.5,461.7 260.1,465.3 261.7,465.3 263.4,467.8 265.0,468.8 266.6,469.6 268.3,471.0 269.9,475.2 271.5,476.6 273.2,477.0 274.8,477.3 276.5,478.2 278.1,478.5 279.7,478.5 281.4,478.5 283.0,478.5 284.6,478.5 286.3,478.5 287.9,478.5 289.5,478.5 291.2,478.5 292.8,478.5 294.5,478.5 296.1,478.5 297.7,478.5 299.4,478.5 301.0,478.5 302.6,478.5 304.3,478.5 305.9,478.5 307.5,478.5 309.2,478.5 310.8,478.5 312.5,478.5 314.1,478.5 315.7,478.5 317.4,478.5 319.0,478.5 320.6,478.5 322.3,478.5 323.9,478.5 325.5,478.5 327.2,478.5 328.8,478.5 330.5,478.5 332.1,478.5 333.7,478.5 335.4,478.5 337.0,478.5 338.6,478.5 340.3,478.5 341.9,478.5 343.5,478.5 345.2,478.5 346.8,478.5 348.5,478.5 350.1,478.5 351.7,478.5 353.4,478.5 355.0,478.5 356.6,478.5 358.3,478.5 359.9,478.5 361.5,478.5 363.2,478.5 364.8,478.5 366.5,478.5 368.1,478.5 369.7,478.5 371.4,478.5 373.0,478.5 374.6,478.5 376.3,478.5 377.9,478.5 379.5,478.5 381.2,478.5 382.8,478.5 384.5,478.5 386.1,478.5 387.7,478.5 389.4,478.5 391.0,478.5 392.6,478.5 394.3,478.5 395.9,478.5 397.5,478.5 399.2,478.5 400.8,478.5 402.5,478.5 404.1,478.5 405.7,478.5 407.4,478.5 409.0,478.5" fill="none" stroke="#e0303a" stroke-width="0.90" stroke-linejoin="round" marker-start="url(#mBPSO)" marker-mid="url(#mBPSO)" marker-end="url(#mBPSO)"/>
<polyline points="247.0,412.0 248.6,446.4 250.3,458.6 251.9,465.6 253.5,472.2 255.2,480.5 256.8,488.0 258.5,491.0 260.1,491.0 261.7,493.4 263.4,496.7 265.0,498.0 266.6,500.0 268.3,500.4 269.9,500.4 271.5,500.4 273.2,500.4 274.8,500.4 276.5,500.4 278.1,500.4 279.7,500.4 281.4,500.4 283.0,500.4 284.6,500.4 286.3,500.4 287.9,500.4 289.5,500.4 291.2,500.4 292.8,500.4 294.5,500.4 296.1,500.4 297.7,503.1 299.4,505.7 301.0,506.5 302.6,506.5 304.3,506.5 305.9,506.5 307.5,509.4 309.2,509.4 310.8,509.4 312.5,509.4 314.1,509.4 315.7,509.4 317.4,509.4 319.0,511.7 320.6,511.7 322.3,511.7 323.9,511.7 325.5,511.7 327.2,511.7 328.8,511.7 330.5,511.7 332.1,513.4 333.7,513.4 335.4,513.4 337.0,513.4 338.6,513.4 340.3,513.4 341.9,513.4 343.5,513.4 345.2,513.4 346.8,513.4 348.5,513.4 350.1,513.4 351.7,513.4 353.4,513.4 355.0,513.4 356.6,513.4 358.3,513.4 359.9,513.4 361.5,513.4 363.2,513.4 364.8,513.4 366.5,513.4 368.1,513.4 369.7,513.4 371.4,513.4 373.0,513.4 374.6,513.4 376.3,513.4 377.9,513.4 379.5,513.4 381.2,513.4 382.8,513.4 384.5,513.4 386.1,513.4 387.7,513.4 389.4,513.4 391.0,513.4 392.6,513.4 394.3,513.4 395.9,513.4 397.5,513.4 399.2,513.4 400.8,513.4 402.5,513.4 404.1,513.4 405.7,513.4 407.4,513.4 409.0,513.4" fill="none" stroke="#84e684" stroke-width="0.90" stroke-linejoin="round" marker-start="url(#mBGWO)" marker-mid="url(#mBGWO)" marker-end="url(#mBGWO)"/>
<polyline points="247.0,410.0 248.6,447.8 250.3,458.9 251.9,464.4 253.5,469.9 255.2,475.4 256.8,479.3 258.5,479.7 260.1,479.7 261.7,479.7 263.4,479.7 265.0,479.7 266.6,479.7 268.3,479.7 269.9,479.7 271.5,479.7 273.2,479.7 274.8,479.7 276.5,479.7 278.1,479.7 279.7,479.7 281.4,479.7 283.0,479.7 284.6,479.7 286.3,479.7 287.9,479.7 289.5,479.7 291.2,479.7 292.8,479.7 294.5,479.7 296.1,479.7 297.7,479.7 299.4,479.7 301.0,479.7 302.6,479.7 304.3,479.7 305.9,479.7 307.5,479.7 309.2,479.7 310.8,479.7 312.5,479.7 314.1,479.7 315.7,479.7 317.4,479.7 319.0,479.7 320.6,479.7 322.3,479.7 323.9,479.7 325.5,479.7 327.2,479.7 328.8,479.7 330.5,479.7 332.1,479.7 333.7,479.7 335.4,479.7 337.0,479.7 338.6,479.7 340.3,479.7 341.9,479.7 343.5,479.7 345.2,479.7 346.8,479.7 348.5,479.7 350.1,479.7 351.7,479.7 353.4,479.7 355.0,479.7 356.6,479.7 358.3,479.7 359.9,479.7 361.5,479.7 363.2,479.7 364.8,479.7 366.5,479.7 368.1,479.7 369.7,479.7 371.4,479.7 373.0,479.7 374.6,479.7 376.3,479.7 377.9,479.7 379.5,479.7 381.2,479.7 382.8,479.7 384.5,479.7 386.1,479.7 387.7,479.7 389.4,479.7 391.0,479.7 392.6,479.7 394.3,479.7 395.9,479.7 397.5,479.7 399.2,479.7 400.8,479.7 402.5,479.7 404.1,479.7 405.7,479.7 407.4,479.7 409.0,479.7" fill="none" stroke="#8ce88c" stroke-width="0.80" stroke-dasharray="0.8 0.8" stroke-linejoin="round" marker-start="url(#mBDA)" marker-mid="url(#mBDA)" marker-end="url(#mBDA)"/>
<polyline points="247.0,421.6 248.6,421.6 250.3,421.6 251.9,421.6 253.5,421.6 255.2,421.6 256.8,421.6 258.5,421.6 260.1,421.6 261.7,421.6 263.4,421.6 265.0,421.6 266.6,421.6 268.3,421.6 269.9,421.6 271.5,421.6 273.2,421.6 274.8,421.6 276.5,421.6 278.1,421.6 279.7,421.6 281.4,421.6 283.0,421.6 284.6,421.6 286.3,421.6 287.9,421.6 289.5,421.6 291.2,421.6 292.8,421.6 294.5,421.6 296.1,421.6 297.7,421.6 299.4,421.6 301.0,421.6 302.6,421.6 304.3,421.6 305.9,421.6 307.5,421.6 309.2,421.6 310.8,421.6 312.5,421.6 314.1,421.6 315.7,421.6 317.4,421.6 319.0,421.6 320.6,421.6 322.3,421.6 323.9,421.6 325.5,421.6 327.2,421.6 328.8,421.6 330.5,421.6 332.1,421.6 333.7,421.6 335.4,421.6 337.0,421.6 338.6,421.6 340.3,421.6 341.9,421.6 343.5,421.6 345.2,421.6 346.8,421.6 348.5,421.6 350.1,421.6 351.7,421.6 353.4,421.6 355.0,421.6 356.6,421.6 358.3,421.6 359.9,421.6 361.5,421.6 363.2,421.6 364.8,421.6 366.5,421.6 368.1,421.6 369.7,421.6 371.4,421.6 373.0,421.6 374.6,421.6 376.3,421.6 377.9,421.6 379.5,421.6 381.2,421.6 382.8,421.6 384.5,421.6 386.1,421.6 387.7,421.6 389.4,421.6 391.0,421.6 392.6,421.6 394.3,421.6 395.9,421.6 397.5,421.6 399.2,421.6 400.8,421.6 402.5,421.6 404.1,421.6 405.7,421.6 407.4,421.6 409.0,421.6" fill="none" stroke="#9a9af2" stroke-width="0.60" stroke-dasharray="1.6 0.8" stroke-linejoin="round" marker-start="url(#mBCCSA)" marker-mid="url(#mBCCSA)" marker-end="url(#mBCCSA)"/>
<polyline points="247.0,436.0 248.6,436.0 250.3,436.0 251.9,438.7 253.5,439.0 255.2,439.0 256.8,439.0 258.5,440.2 260.1,456.6 261.7,456.6 263.4,456.6 265.0,456.6 266.6,456.6 268.3,459.0 269.9,459.0 271.5,459.0 273.2,459.0 274.8,460.9 276.5,460.9 278.1,460.9 279.7,460.9 281.4,460.9 283.0,460.9 284.6,460.9 286.3,460.9 287.9,460.9 289.5,460.9 291.2,460.9 292.8,460.9 294.5,460.9 296.1,460.9 297.7,460.9 299.4,460.9 301.0,460.9 302.6,460.9 304.3,460.9 305.9,460.9 307.5,460.9 309.2,460.9 310.8,460.9 312.5,460.9 314.1,460.9 315.7,460.9 317.4,460.9 319.0,460.9 320.6,466.1 322.3,471.6 323.9,471.6 325.5,471.6 327.2,471.6 328.8,471.6 330.5,471.6 332.1,471.6 333.7,471.6 335.4,471.6 337.0,471.6 338.6,471.6 340.3,471.6 341.9,471.6 343.5,471.6 345.2,471.6 346.8,471.6 348.5,471.6 350.1,471.6 351.7,471.6 353.4,471.6 355.0,471.6 356.6,471.6 358.3,471.6 359.9,471.6 361.5,471.6 363.2,471.6 364.8,471.6 366.5,471.6 368.1,471.6 369.7,471.6 371.4,471.6 373.0,471.6 374.6,471.6 376.3,471.6 377.9,471.6 379.5,471.6 381.2,471.6 382.8,471.6 384.5,471.6 386.1,471.6 387.7,471.6 389.4,471.6 391.0,471.6 392.6,471.6 394.3,471.6 395.9,471.6 397.5,471.6 399.2,471.6 400.8,471.6 402.5,471.6 404.1,471.6 405.7,471.6 407.4,471.6 409.0,471.6" fill="none" stroke="#6060e4" stroke-width="0.65" stroke-linejoin="round" marker-start="url(#mBFFAG)" marker-mid="url(#mBFFAG)" marker-end="url(#mBFFAG)"/>
<polyline points="247.0,464.0 248.6,466.8 250.3,475.5 251.9,476.4 253.5,479.7 255.2,483.2 256.8,484.3 258.5,484.7 260.1,484.7 261.7,484.7 263.4,484.7 265.0,484.7 266.6,484.7 268.3,484.7 269.9,484.7 271.5,484.7 273.2,484.7 274.8,485.7 276.5,487.1 278.1,488.4 279.7,489.6 281.4,489.8 283.0,489.8 284.6,489.8 286.3,489.8 287.9,489.8 289.5,489.8 291.2,489.8 292.8,489.8 294.5,489.8 296.1,489.8 297.7,489.8 299.4,491.8 301.0,491.8 302.6,491.8 304.3,491.8 305.9,491.8 307.5,492.9 309.2,495.7 310.8,495.7 312.5,495.7 314.1,495.7 315.7,495.7 317.4,495.7 319.0,495.7 320.6,495.7 322.3,495.7 323.9,495.7 325.5,495.7 327.2,495.7 328.8,495.7 330.5,495.7 332.1,495.7 333.7,495.7 335.4,495.7 337.0,495.7 338.6,495.7 340.3,495.7 341.9,495.7 343.5,495.7 345.2,495.7 346.8,495.7 348.5,495.7 350.1,495.7 351.7,495.7 353.4,495.7 355.0,495.7 356.6,495.7 358.3,495.7 359.9,495.7 361.5,495.7 363.2,495.7 364.8,495.7 366.5,495.7 368.1,495.7 369.7,495.7 371.4,495.7 373.0,495.7 374.6,495.7 376.3,495.7 377.9,495.7 379.5,495.7 381.2,495.7 382.8,498.7 384.5,498.7 386.1,498.7 387.7,498.7 389.4,498.7 391.0,498.7 392.6,498.7 394.3,498.7 395.9,498.7 397.5,498.7 399.2,498.7 400.8,498.7 402.5,498.7 404.1,498.7 405.7,498.7 407.4,500.4 409.0,503.0" fill="none" stroke="#5050dc" stroke-width="0.65" stroke-linejoin="round" marker-start="url(#mBAVOAV1)" marker-mid="url(#mBAVOAV1)" marker-end="url(#mBAVOAV1)"/>
<path d="M247,483 H333.2 L334,488.7 H345.3 L346.2,491.7 H367.5 L368.4,510 H391.6 L392.5,510.8 H395.1 L396,520.3 H402.9 L403.8,523.8 H409" fill="none" stroke="#555555" stroke-width="0.60" stroke-linejoin="round"/>
<path d="M247.00,403.00 V531.40 H409.00" fill="none" stroke="#8a8a8a" stroke-width="0.6"/>
<text x="261.73" y="538.96" font-size="4.90" text-anchor="middle" class="t">10</text>
<text x="278.09" y="538.96" font-size="4.90" text-anchor="middle" class="t">20</text>
<text x="294.45" y="538.96" font-size="4.90" text-anchor="middle" class="t">30</text>
<text x="310.82" y="538.96" font-size="4.90" text-anchor="middle" class="t">40</text>
<text x="327.18" y="538.96" font-size="4.90" text-anchor="middle" class="t">50</text>
<text x="343.55" y="538.96" font-size="4.90" text-anchor="middle" class="t">60</text>
<text x="359.91" y="538.96" font-size="4.90" text-anchor="middle" class="t">70</text>
<text x="376.27" y="538.96" font-size="4.90" text-anchor="middle" class="t">80</text>
<text x="392.64" y="538.96" font-size="4.90" text-anchor="middle" class="t">90</text>
<text x="409.00" y="538.96" font-size="4.90" text-anchor="middle" class="t">100</text>
<text x="244.60" y="533.16" font-size="4.90" text-anchor="end" class="t">0.08</text>
<text x="244.60" y="514.82" font-size="4.90" text-anchor="end" class="t">0.085</text>
<text x="244.60" y="496.48" font-size="4.90" text-anchor="end" class="t">0.09</text>
<text x="244.60" y="478.14" font-size="4.90" text-anchor="end" class="t">0.095</text>
<text x="244.60" y="459.79" font-size="4.90" text-anchor="end" class="t">0.1</text>
<text x="244.60" y="441.45" font-size="4.90" text-anchor="end" class="t">0.105</text>
<text x="244.60" y="423.11" font-size="4.90" text-anchor="end" class="t">0.11</text>
<text x="244.60" y="404.76" font-size="4.90" text-anchor="end" class="t">0.115</text>
<path d="M261.73,531.40 v-1.4 M278.09,531.40 v-1.4 M294.45,531.40 v-1.4 M310.82,531.40 v-1.4 M327.18,531.40 v-1.4 M343.55,531.40 v-1.4 M359.91,531.40 v-1.4 M376.27,531.40 v-1.4 M392.64,531.40 v-1.4 M409.00,531.40 v-1.4 M247.00,531.40 h1.4 M247.00,513.06 h1.4 M247.00,494.71 h1.4 M247.00,476.37 h1.4 M247.00,458.03 h1.4 M247.00,439.69 h1.4 M247.00,421.34 h1.4 M247.00,403.00 h1.4" stroke="#8a8a8a" stroke-width="0.5"/>
<text x="328.00" y="546.16" font-size="5.45" text-anchor="middle" class="t">Iteration</text>
<text transform="translate(229.41,467.20) rotate(-90)" font-size="5.30" text-anchor="middle" class="t">Best Fitness</text>
<text x="328.50" y="400.60" font-size="5.40" font-weight="bold" text-anchor="middle" class="ti">spambase</text>
<rect x="364.40" y="406.30" width="42.10" height="51.00" fill="#fff" stroke="#9a9a9a" stroke-width="0.5"/>
<path d="M365.80,409.90 H379.80" stroke="#f2a6b0" stroke-width="0.60" stroke-dasharray="0.8 0.8"/>

<text x="381.70" y="412.02" font-size="4.50" class="lg">BBA</text>
<path d="M365.80,416.19 H379.80" stroke="#e0303a" stroke-width="0.60"/>
<circle cx="372.80" cy="416.19" r="0.80" fill="#e0303a"/>
<text x="381.70" y="418.31" font-size="4.50" class="lg">BPSO</text>
<path d="M365.80,422.47 H379.80" stroke="#84e684" stroke-width="0.60" stroke-dasharray="1.6 0.7 0.5 0.7"/>
<circle cx="372.80" cy="422.47" r="0.60" fill="#84e684"/>
<text x="381.70" y="424.59" font-size="4.50" class="lg">BGWO</text>
<path d="M365.80,428.76 H379.80" stroke="#8ce88c" stroke-width="0.60" stroke-dasharray="0.8 0.8"/>
<circle cx="372.80" cy="428.76" r="1.00" fill="#8ce88c"/>
<text x="381.70" y="430.88" font-size="4.50" class="lg">BDA</text>
<path d="M365.80,435.04 H379.80" stroke="#9a9af2" stroke-width="0.60" stroke-dasharray="1.4 0.8"/>
<circle cx="372.80" cy="435.04" r="0.50" fill="#9a9af2"/>
<text x="381.70" y="437.16" font-size="4.50" class="lg">BCCSA</text>
<path d="M365.80,441.33 H379.80" stroke="#6060e4" stroke-width="0.60"/>
<circle cx="372.80" cy="441.33" r="1.20" fill="#6060e4"/>
<text x="381.70" y="443.45" font-size="4.50" class="lg">BFFAG</text>
<path d="M365.80,447.61 H379.80" stroke="#5050dc" stroke-width="0.60"/>
<path d="M371.50,446.31 L374.10,447.61 L371.50,448.91 Z" fill="#5050dc"/>
<text x="381.70" y="449.73" font-size="4.50" class="lg">BAVOA-V1</text>
<path d="M365.80,453.90 H379.80" stroke="#555555" stroke-width="0.60"/>

<text x="381.70" y="456.02" font-size="4.50" class="lg">BAVOAH</text></g>
</svg>
</body></html>
